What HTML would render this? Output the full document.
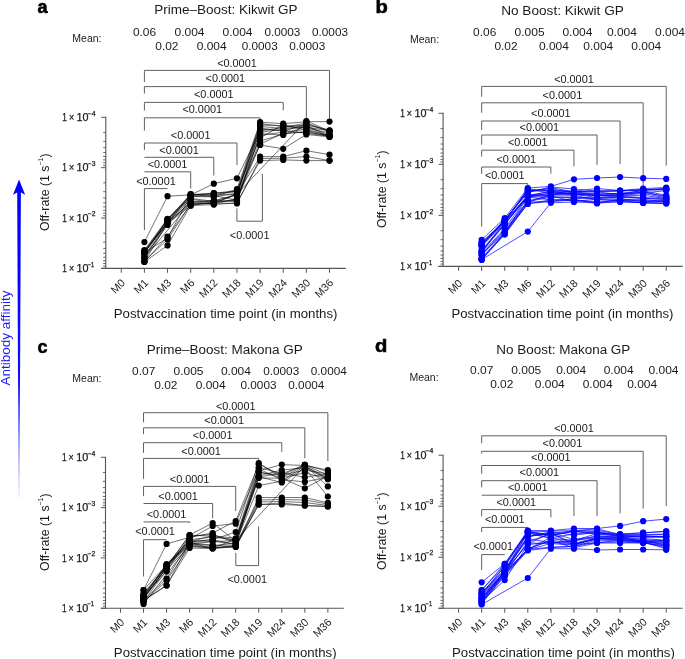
<!DOCTYPE html>
<html><head><meta charset="utf-8"><style>
html,body{margin:0;padding:0;background:#fff;}
svg{display:block;will-change:transform;font-family:"Liberation Sans", sans-serif;}
</style></head><body>
<svg width="685" height="659" viewBox="0 0 685 659">
<defs><linearGradient id="fade" x1="0" y1="0" x2="0" y2="1">
<stop offset="0" stop-color="#0000ff"/><stop offset="0.6" stop-color="#0000ff" stop-opacity="0.95"/><stop offset="1" stop-color="#0000ff" stop-opacity="0.1"/></linearGradient></defs>
<rect width="685" height="659" fill="#fff"/><line x1="105.80" y1="116.80" x2="105.80" y2="268.90" stroke="#555" stroke-width="1.1"/>
<line x1="101.20" y1="117.30" x2="105.80" y2="117.30" stroke="#555" stroke-width="1.0"/>
<line x1="103.20" y1="132.46" x2="105.80" y2="132.46" stroke="#555" stroke-width="0.9"/>
<line x1="103.20" y1="141.33" x2="105.80" y2="141.33" stroke="#555" stroke-width="0.9"/>
<line x1="103.20" y1="147.63" x2="105.80" y2="147.63" stroke="#555" stroke-width="0.9"/>
<line x1="103.20" y1="152.51" x2="105.80" y2="152.51" stroke="#555" stroke-width="0.9"/>
<line x1="103.20" y1="156.50" x2="105.80" y2="156.50" stroke="#555" stroke-width="0.9"/>
<line x1="103.20" y1="159.87" x2="105.80" y2="159.87" stroke="#555" stroke-width="0.9"/>
<line x1="103.20" y1="162.79" x2="105.80" y2="162.79" stroke="#555" stroke-width="0.9"/>
<line x1="103.20" y1="165.37" x2="105.80" y2="165.37" stroke="#555" stroke-width="0.9"/>
<g stroke="#1a1a1a" stroke-width="0.25">
<text x="62.30" y="121.10" font-size="10" text-anchor="start" fill="#1a1a1a" font-weight="normal" textLength="4.6" lengthAdjust="spacingAndGlyphs">1</text>
<text x="68.90" y="121.10" font-size="10" text-anchor="start" fill="#1a1a1a" font-weight="normal" textLength="5.2" lengthAdjust="spacingAndGlyphs">×</text>
<text x="76.50" y="121.10" font-size="10" text-anchor="start" fill="#1a1a1a" font-weight="normal" textLength="12.0" lengthAdjust="spacingAndGlyphs">10</text>
<text x="87.70" y="115.50" font-size="6.5" text-anchor="start" fill="#1a1a1a" font-weight="normal" textLength="7.8" lengthAdjust="spacingAndGlyphs">−4</text>
</g>
<line x1="101.20" y1="167.67" x2="105.80" y2="167.67" stroke="#555" stroke-width="1.0"/>
<line x1="103.20" y1="182.83" x2="105.80" y2="182.83" stroke="#555" stroke-width="0.9"/>
<line x1="103.20" y1="191.70" x2="105.80" y2="191.70" stroke="#555" stroke-width="0.9"/>
<line x1="103.20" y1="198.00" x2="105.80" y2="198.00" stroke="#555" stroke-width="0.9"/>
<line x1="103.20" y1="202.88" x2="105.80" y2="202.88" stroke="#555" stroke-width="0.9"/>
<line x1="103.20" y1="206.87" x2="105.80" y2="206.87" stroke="#555" stroke-width="0.9"/>
<line x1="103.20" y1="210.24" x2="105.80" y2="210.24" stroke="#555" stroke-width="0.9"/>
<line x1="103.20" y1="213.16" x2="105.80" y2="213.16" stroke="#555" stroke-width="0.9"/>
<line x1="103.20" y1="215.74" x2="105.80" y2="215.74" stroke="#555" stroke-width="0.9"/>
<g stroke="#1a1a1a" stroke-width="0.25">
<text x="62.30" y="171.47" font-size="10" text-anchor="start" fill="#1a1a1a" font-weight="normal" textLength="4.6" lengthAdjust="spacingAndGlyphs">1</text>
<text x="68.90" y="171.47" font-size="10" text-anchor="start" fill="#1a1a1a" font-weight="normal" textLength="5.2" lengthAdjust="spacingAndGlyphs">×</text>
<text x="76.50" y="171.47" font-size="10" text-anchor="start" fill="#1a1a1a" font-weight="normal" textLength="12.0" lengthAdjust="spacingAndGlyphs">10</text>
<text x="87.70" y="165.87" font-size="6.5" text-anchor="start" fill="#1a1a1a" font-weight="normal" textLength="7.8" lengthAdjust="spacingAndGlyphs">−3</text>
</g>
<line x1="101.20" y1="218.04" x2="105.80" y2="218.04" stroke="#555" stroke-width="1.0"/>
<line x1="103.20" y1="233.20" x2="105.80" y2="233.20" stroke="#555" stroke-width="0.9"/>
<line x1="103.20" y1="242.07" x2="105.80" y2="242.07" stroke="#555" stroke-width="0.9"/>
<line x1="103.20" y1="248.37" x2="105.80" y2="248.37" stroke="#555" stroke-width="0.9"/>
<line x1="103.20" y1="253.25" x2="105.80" y2="253.25" stroke="#555" stroke-width="0.9"/>
<line x1="103.20" y1="257.24" x2="105.80" y2="257.24" stroke="#555" stroke-width="0.9"/>
<line x1="103.20" y1="260.61" x2="105.80" y2="260.61" stroke="#555" stroke-width="0.9"/>
<line x1="103.20" y1="263.53" x2="105.80" y2="263.53" stroke="#555" stroke-width="0.9"/>
<line x1="103.20" y1="266.11" x2="105.80" y2="266.11" stroke="#555" stroke-width="0.9"/>
<g stroke="#1a1a1a" stroke-width="0.25">
<text x="62.30" y="221.84" font-size="10" text-anchor="start" fill="#1a1a1a" font-weight="normal" textLength="4.6" lengthAdjust="spacingAndGlyphs">1</text>
<text x="68.90" y="221.84" font-size="10" text-anchor="start" fill="#1a1a1a" font-weight="normal" textLength="5.2" lengthAdjust="spacingAndGlyphs">×</text>
<text x="76.50" y="221.84" font-size="10" text-anchor="start" fill="#1a1a1a" font-weight="normal" textLength="12.0" lengthAdjust="spacingAndGlyphs">10</text>
<text x="87.70" y="216.24" font-size="6.5" text-anchor="start" fill="#1a1a1a" font-weight="normal" textLength="7.8" lengthAdjust="spacingAndGlyphs">−2</text>
</g>
<line x1="101.20" y1="268.41" x2="105.80" y2="268.41" stroke="#555" stroke-width="1.0"/>
<g stroke="#1a1a1a" stroke-width="0.25">
<text x="62.30" y="272.21" font-size="10" text-anchor="start" fill="#1a1a1a" font-weight="normal" textLength="4.6" lengthAdjust="spacingAndGlyphs">1</text>
<text x="68.90" y="272.21" font-size="10" text-anchor="start" fill="#1a1a1a" font-weight="normal" textLength="5.2" lengthAdjust="spacingAndGlyphs">×</text>
<text x="76.50" y="272.21" font-size="10" text-anchor="start" fill="#1a1a1a" font-weight="normal" textLength="12.0" lengthAdjust="spacingAndGlyphs">10</text>
<text x="87.70" y="266.61" font-size="6.5" text-anchor="start" fill="#1a1a1a" font-weight="normal" textLength="6.6" lengthAdjust="spacingAndGlyphs">−1</text>
</g>
<line x1="101.20" y1="268.40" x2="345.80" y2="268.40" stroke="#555" stroke-width="1.1"/>
<line x1="121.26" y1="268.40" x2="121.26" y2="272.80" stroke="#555" stroke-width="1.0"/>
<text x="0.00" y="0.00" font-size="10.8" text-anchor="end" fill="#1a1a1a" font-weight="normal" transform="translate(125.76,283.60) rotate(-45)">M0</text>
<line x1="144.40" y1="268.40" x2="144.40" y2="272.80" stroke="#555" stroke-width="1.0"/>
<text x="0.00" y="0.00" font-size="10.8" text-anchor="end" fill="#1a1a1a" font-weight="normal" transform="translate(148.90,283.60) rotate(-45)">M1</text>
<line x1="167.54" y1="268.40" x2="167.54" y2="272.80" stroke="#555" stroke-width="1.0"/>
<text x="0.00" y="0.00" font-size="10.8" text-anchor="end" fill="#1a1a1a" font-weight="normal" transform="translate(172.04,283.60) rotate(-45)">M3</text>
<line x1="190.68" y1="268.40" x2="190.68" y2="272.80" stroke="#555" stroke-width="1.0"/>
<text x="0.00" y="0.00" font-size="10.8" text-anchor="end" fill="#1a1a1a" font-weight="normal" transform="translate(195.18,283.60) rotate(-45)">M6</text>
<line x1="213.82" y1="268.40" x2="213.82" y2="272.80" stroke="#555" stroke-width="1.0"/>
<text x="0.00" y="0.00" font-size="10.8" text-anchor="end" fill="#1a1a1a" font-weight="normal" transform="translate(218.32,283.60) rotate(-45)">M12</text>
<line x1="236.96" y1="268.40" x2="236.96" y2="272.80" stroke="#555" stroke-width="1.0"/>
<text x="0.00" y="0.00" font-size="10.8" text-anchor="end" fill="#1a1a1a" font-weight="normal" transform="translate(241.46,283.60) rotate(-45)">M18</text>
<line x1="260.10" y1="268.40" x2="260.10" y2="272.80" stroke="#555" stroke-width="1.0"/>
<text x="0.00" y="0.00" font-size="10.8" text-anchor="end" fill="#1a1a1a" font-weight="normal" transform="translate(264.60,283.60) rotate(-45)">M19</text>
<line x1="283.24" y1="268.40" x2="283.24" y2="272.80" stroke="#555" stroke-width="1.0"/>
<text x="0.00" y="0.00" font-size="10.8" text-anchor="end" fill="#1a1a1a" font-weight="normal" transform="translate(287.74,283.60) rotate(-45)">M24</text>
<line x1="306.38" y1="268.40" x2="306.38" y2="272.80" stroke="#555" stroke-width="1.0"/>
<text x="0.00" y="0.00" font-size="10.8" text-anchor="end" fill="#1a1a1a" font-weight="normal" transform="translate(310.88,283.60) rotate(-45)">M30</text>
<line x1="329.52" y1="268.40" x2="329.52" y2="272.80" stroke="#555" stroke-width="1.0"/>
<text x="0.00" y="0.00" font-size="10.8" text-anchor="end" fill="#1a1a1a" font-weight="normal" transform="translate(334.02,283.60) rotate(-45)">M36</text>
<text x="225.60" y="317.80" font-size="12" text-anchor="middle" fill="#1a1a1a" font-weight="normal" textLength="223.8" lengthAdjust="spacingAndGlyphs">Postvaccination time point (in months)</text>
<text transform="translate(49.20,192.25) rotate(-90)" font-size="12.5" fill="#1a1a1a" text-anchor="middle" textLength="77.5" lengthAdjust="spacingAndGlyphs">Off-rate (1 s<tspan dy="-6" font-size="7">−1</tspan><tspan dy="6">)</tspan></text>
<text x="0.00" y="0.00" font-size="18" text-anchor="start" fill="#000" font-weight="bold" stroke="#000" stroke-width="0.6" transform="translate(37.60,13.10) scale(1.0,1)">a</text>
<text x="225.90" y="14.10" font-size="12.5" text-anchor="middle" fill="#1a1a1a" font-weight="normal" textLength="143.5" lengthAdjust="spacingAndGlyphs">Prime–Boost: Kikwit GP</text>
<text x="72.30" y="42.10" font-size="10" text-anchor="start" fill="#1a1a1a" font-weight="normal" textLength="29.2" lengthAdjust="spacingAndGlyphs">Mean:</text>
<text x="144.50" y="36.10" font-size="10" text-anchor="middle" fill="#1a1a1a" font-weight="normal" textLength="23.2" lengthAdjust="spacingAndGlyphs">0.06</text>
<text x="189.50" y="36.10" font-size="10" text-anchor="middle" fill="#1a1a1a" font-weight="normal" textLength="30.0" lengthAdjust="spacingAndGlyphs">0.004</text>
<text x="237.50" y="36.10" font-size="10" text-anchor="middle" fill="#1a1a1a" font-weight="normal" textLength="30.0" lengthAdjust="spacingAndGlyphs">0.004</text>
<text x="282.40" y="36.10" font-size="10" text-anchor="middle" fill="#1a1a1a" font-weight="normal" textLength="36.0" lengthAdjust="spacingAndGlyphs">0.0003</text>
<text x="330.00" y="36.10" font-size="10" text-anchor="middle" fill="#1a1a1a" font-weight="normal" textLength="36.0" lengthAdjust="spacingAndGlyphs">0.0003</text>
<text x="166.90" y="50.10" font-size="10" text-anchor="middle" fill="#1a1a1a" font-weight="normal" textLength="23.2" lengthAdjust="spacingAndGlyphs">0.02</text>
<text x="211.70" y="50.10" font-size="10" text-anchor="middle" fill="#1a1a1a" font-weight="normal" textLength="30.0" lengthAdjust="spacingAndGlyphs">0.004</text>
<text x="259.70" y="50.10" font-size="10" text-anchor="middle" fill="#1a1a1a" font-weight="normal" textLength="36.0" lengthAdjust="spacingAndGlyphs">0.0003</text>
<text x="307.20" y="50.10" font-size="10" text-anchor="middle" fill="#1a1a1a" font-weight="normal" textLength="36.0" lengthAdjust="spacingAndGlyphs">0.0003</text>
<polyline points="144.40,82.00 144.40,70.40 329.52,70.40 329.52,120.50" fill="none" stroke="#606060" stroke-width="1.0"/>
<text x="236.96" y="66.90" font-size="10" text-anchor="middle" fill="#1a1a1a" font-weight="normal" textLength="39.6" lengthAdjust="spacingAndGlyphs">&lt;0.0001</text>
<polyline points="144.40,93.60 144.40,86.60 306.38,86.60 306.38,119.50" fill="none" stroke="#606060" stroke-width="1.0"/>
<text x="225.39" y="82.40" font-size="10" text-anchor="middle" fill="#1a1a1a" font-weight="normal" textLength="39.6" lengthAdjust="spacingAndGlyphs">&lt;0.0001</text>
<polyline points="144.40,110.50 144.40,102.40 283.24,102.40 283.24,110.40" fill="none" stroke="#606060" stroke-width="1.0"/>
<text x="213.82" y="98.40" font-size="10" text-anchor="middle" fill="#1a1a1a" font-weight="normal" textLength="39.6" lengthAdjust="spacingAndGlyphs">&lt;0.0001</text>
<polyline points="144.40,130.50 144.40,117.80 260.10,117.80 260.10,121.00" fill="none" stroke="#606060" stroke-width="1.0"/>
<text x="202.25" y="113.30" font-size="10" text-anchor="middle" fill="#1a1a1a" font-weight="normal" textLength="39.6" lengthAdjust="spacingAndGlyphs">&lt;0.0001</text>
<polyline points="144.40,150.00 144.40,143.00 236.96,143.00 236.96,165.00" fill="none" stroke="#606060" stroke-width="1.0"/>
<text x="190.68" y="138.50" font-size="10" text-anchor="middle" fill="#1a1a1a" font-weight="normal" textLength="39.6" lengthAdjust="spacingAndGlyphs">&lt;0.0001</text>
<polyline points="144.40,157.30 144.40,157.30 213.82,157.30 213.82,175.50" fill="none" stroke="#606060" stroke-width="1.0"/>
<text x="179.11" y="153.60" font-size="10" text-anchor="middle" fill="#1a1a1a" font-weight="normal" textLength="39.6" lengthAdjust="spacingAndGlyphs">&lt;0.0001</text>
<polyline points="144.40,171.80 144.40,171.80 190.68,171.80 190.68,188.50" fill="none" stroke="#606060" stroke-width="1.0"/>
<text x="167.54" y="167.80" font-size="10" text-anchor="middle" fill="#1a1a1a" font-weight="normal" textLength="39.6" lengthAdjust="spacingAndGlyphs">&lt;0.0001</text>
<polyline points="144.40,230.00 144.40,188.60 167.54,188.60 167.54,188.60" fill="none" stroke="#606060" stroke-width="1.0"/>
<text x="155.97" y="185.20" font-size="10" text-anchor="middle" fill="#1a1a1a" font-weight="normal" textLength="39.6" lengthAdjust="spacingAndGlyphs">&lt;0.0001</text>
<polyline points="236.90,208.40 236.90,221.20 262.40,221.20 262.40,173.80" fill="none" stroke="#606060" stroke-width="1.0"/>
<text x="249.65" y="238.60" font-size="10" text-anchor="middle" fill="#1a1a1a" font-weight="normal" textLength="39.6" lengthAdjust="spacingAndGlyphs">&lt;0.0001</text>
<polyline points="144.40,242.10 167.54,196.20 190.68,194.91 213.82,183.70 236.96,178.30 260.10,130.82 283.24,127.47 306.38,123.00 329.52,131.62" fill="none" stroke="#000" stroke-width="0.55"/>
<polyline points="144.40,250.00 167.54,218.80 190.68,194.96 213.82,193.00 236.96,191.14 260.10,123.64 283.24,126.53 306.38,125.07 329.52,130.51" fill="none" stroke="#000" stroke-width="0.55"/>
<polyline points="144.40,250.84 167.54,219.85 190.68,194.00 213.82,196.82 236.96,189.00 260.10,122.20 283.24,123.70 306.38,121.70 329.52,121.60" fill="none" stroke="#000" stroke-width="0.55"/>
<polyline points="144.40,251.07 167.54,222.63 190.68,196.60 213.82,196.84 236.96,193.53 260.10,125.07 283.24,125.58 306.38,128.18 329.52,132.77" fill="none" stroke="#000" stroke-width="0.55"/>
<polyline points="144.40,252.32 167.54,222.62 190.68,194.29 213.82,194.37 236.96,191.45 260.10,138.00 283.24,124.64 306.38,130.25 329.52,135.63" fill="none" stroke="#000" stroke-width="0.55"/>
<polyline points="144.40,252.34 167.54,221.18 190.68,195.39 213.82,193.19 236.96,191.37 260.10,132.25 283.24,129.35 306.38,127.15 329.52,130.77" fill="none" stroke="#000" stroke-width="0.55"/>
<polyline points="144.40,252.55 167.54,238.00 190.68,195.43 213.82,194.93 236.96,193.85 260.10,127.95 283.24,131.23 306.38,124.04 329.52,130.40" fill="none" stroke="#000" stroke-width="0.55"/>
<polyline points="144.40,252.57 167.54,222.09 190.68,202.41 213.82,200.60 236.96,195.24 260.10,126.51 283.24,128.41 306.38,126.11 329.52,136.71" fill="none" stroke="#000" stroke-width="0.55"/>
<polyline points="144.40,252.66 167.54,219.72 190.68,196.51 213.82,195.64 236.96,200.14 260.10,144.20 283.24,133.12 306.38,132.33 329.52,135.74" fill="none" stroke="#000" stroke-width="0.55"/>
<polyline points="144.40,253.46 167.54,219.07 190.68,198.47 213.82,201.28 236.96,200.47 260.10,129.38 283.24,130.29 306.38,133.36 329.52,136.26" fill="none" stroke="#000" stroke-width="0.55"/>
<polyline points="144.40,255.61 167.54,222.31 190.68,199.34 213.82,202.36 236.96,199.89 260.10,135.13 283.24,132.18 306.38,129.22 329.52,135.64" fill="none" stroke="#000" stroke-width="0.55"/>
<polyline points="144.40,256.97 167.54,225.00 190.68,201.05 213.82,204.14 236.96,198.56 260.10,141.00 283.24,134.06 306.38,131.29 329.52,136.52" fill="none" stroke="#000" stroke-width="0.55"/>
<polyline points="144.40,257.96 190.68,202.60 213.82,200.49 236.96,201.73 260.10,133.69 283.24,135.00 306.38,126.00 329.52,135.02" fill="none" stroke="#000" stroke-width="0.55"/>
<polyline points="144.40,258.31 167.54,222.57 190.68,203.69 213.82,203.11 236.96,194.06 260.10,145.00 283.24,148.80 306.38,134.40 329.52,136.90" fill="none" stroke="#000" stroke-width="0.55"/>
<polyline points="144.40,261.09 167.54,239.50 190.68,204.20 213.82,203.39 236.96,194.05 306.38,121.00 329.52,131.00" fill="none" stroke="#000" stroke-width="0.55"/>
<polyline points="144.40,261.58 167.54,223.22 190.68,205.70 213.82,201.49 236.96,194.09 260.10,156.60 283.24,156.60 306.38,150.70 329.52,154.70" fill="none" stroke="#000" stroke-width="0.55"/>
<polyline points="144.40,261.65 167.54,236.50 190.68,204.41 213.82,203.00 236.96,203.50 260.10,158.50 283.24,158.20 306.38,156.60 329.52,160.60" fill="none" stroke="#000" stroke-width="0.55"/>
<polyline points="144.40,262.00 167.54,245.40 190.68,205.45 213.82,204.60 236.96,202.80 260.10,160.60 283.24,159.90 306.38,160.60 329.52,160.60" fill="none" stroke="#000" stroke-width="0.55"/>
<circle cx="144.40" cy="242.10" r="3.1" fill="#000"/>
<circle cx="167.54" cy="196.20" r="3.1" fill="#000"/>
<circle cx="190.68" cy="194.91" r="3.1" fill="#000"/>
<circle cx="213.82" cy="183.70" r="3.1" fill="#000"/>
<circle cx="236.96" cy="178.30" r="3.1" fill="#000"/>
<circle cx="260.10" cy="130.82" r="3.1" fill="#000"/>
<circle cx="283.24" cy="127.47" r="3.1" fill="#000"/>
<circle cx="306.38" cy="123.00" r="3.1" fill="#000"/>
<circle cx="329.52" cy="131.62" r="3.1" fill="#000"/>
<circle cx="144.40" cy="250.00" r="3.1" fill="#000"/>
<circle cx="167.54" cy="218.80" r="3.1" fill="#000"/>
<circle cx="190.68" cy="194.96" r="3.1" fill="#000"/>
<circle cx="213.82" cy="193.00" r="3.1" fill="#000"/>
<circle cx="236.96" cy="191.14" r="3.1" fill="#000"/>
<circle cx="260.10" cy="123.64" r="3.1" fill="#000"/>
<circle cx="283.24" cy="126.53" r="3.1" fill="#000"/>
<circle cx="306.38" cy="125.07" r="3.1" fill="#000"/>
<circle cx="329.52" cy="130.51" r="3.1" fill="#000"/>
<circle cx="144.40" cy="250.84" r="3.1" fill="#000"/>
<circle cx="167.54" cy="219.85" r="3.1" fill="#000"/>
<circle cx="190.68" cy="194.00" r="3.1" fill="#000"/>
<circle cx="213.82" cy="196.82" r="3.1" fill="#000"/>
<circle cx="236.96" cy="189.00" r="3.1" fill="#000"/>
<circle cx="260.10" cy="122.20" r="3.1" fill="#000"/>
<circle cx="283.24" cy="123.70" r="3.1" fill="#000"/>
<circle cx="306.38" cy="121.70" r="3.1" fill="#000"/>
<circle cx="329.52" cy="121.60" r="3.1" fill="#000"/>
<circle cx="144.40" cy="251.07" r="3.1" fill="#000"/>
<circle cx="167.54" cy="222.63" r="3.1" fill="#000"/>
<circle cx="190.68" cy="196.60" r="3.1" fill="#000"/>
<circle cx="213.82" cy="196.84" r="3.1" fill="#000"/>
<circle cx="236.96" cy="193.53" r="3.1" fill="#000"/>
<circle cx="260.10" cy="125.07" r="3.1" fill="#000"/>
<circle cx="283.24" cy="125.58" r="3.1" fill="#000"/>
<circle cx="306.38" cy="128.18" r="3.1" fill="#000"/>
<circle cx="329.52" cy="132.77" r="3.1" fill="#000"/>
<circle cx="144.40" cy="252.32" r="3.1" fill="#000"/>
<circle cx="167.54" cy="222.62" r="3.1" fill="#000"/>
<circle cx="190.68" cy="194.29" r="3.1" fill="#000"/>
<circle cx="213.82" cy="194.37" r="3.1" fill="#000"/>
<circle cx="236.96" cy="191.45" r="3.1" fill="#000"/>
<circle cx="260.10" cy="138.00" r="3.1" fill="#000"/>
<circle cx="283.24" cy="124.64" r="3.1" fill="#000"/>
<circle cx="306.38" cy="130.25" r="3.1" fill="#000"/>
<circle cx="329.52" cy="135.63" r="3.1" fill="#000"/>
<circle cx="144.40" cy="252.34" r="3.1" fill="#000"/>
<circle cx="167.54" cy="221.18" r="3.1" fill="#000"/>
<circle cx="190.68" cy="195.39" r="3.1" fill="#000"/>
<circle cx="213.82" cy="193.19" r="3.1" fill="#000"/>
<circle cx="236.96" cy="191.37" r="3.1" fill="#000"/>
<circle cx="260.10" cy="132.25" r="3.1" fill="#000"/>
<circle cx="283.24" cy="129.35" r="3.1" fill="#000"/>
<circle cx="306.38" cy="127.15" r="3.1" fill="#000"/>
<circle cx="329.52" cy="130.77" r="3.1" fill="#000"/>
<circle cx="144.40" cy="252.55" r="3.1" fill="#000"/>
<circle cx="167.54" cy="238.00" r="3.1" fill="#000"/>
<circle cx="190.68" cy="195.43" r="3.1" fill="#000"/>
<circle cx="213.82" cy="194.93" r="3.1" fill="#000"/>
<circle cx="236.96" cy="193.85" r="3.1" fill="#000"/>
<circle cx="260.10" cy="127.95" r="3.1" fill="#000"/>
<circle cx="283.24" cy="131.23" r="3.1" fill="#000"/>
<circle cx="306.38" cy="124.04" r="3.1" fill="#000"/>
<circle cx="329.52" cy="130.40" r="3.1" fill="#000"/>
<circle cx="144.40" cy="252.57" r="3.1" fill="#000"/>
<circle cx="167.54" cy="222.09" r="3.1" fill="#000"/>
<circle cx="190.68" cy="202.41" r="3.1" fill="#000"/>
<circle cx="213.82" cy="200.60" r="3.1" fill="#000"/>
<circle cx="236.96" cy="195.24" r="3.1" fill="#000"/>
<circle cx="260.10" cy="126.51" r="3.1" fill="#000"/>
<circle cx="283.24" cy="128.41" r="3.1" fill="#000"/>
<circle cx="306.38" cy="126.11" r="3.1" fill="#000"/>
<circle cx="329.52" cy="136.71" r="3.1" fill="#000"/>
<circle cx="144.40" cy="252.66" r="3.1" fill="#000"/>
<circle cx="167.54" cy="219.72" r="3.1" fill="#000"/>
<circle cx="190.68" cy="196.51" r="3.1" fill="#000"/>
<circle cx="213.82" cy="195.64" r="3.1" fill="#000"/>
<circle cx="236.96" cy="200.14" r="3.1" fill="#000"/>
<circle cx="260.10" cy="144.20" r="3.1" fill="#000"/>
<circle cx="283.24" cy="133.12" r="3.1" fill="#000"/>
<circle cx="306.38" cy="132.33" r="3.1" fill="#000"/>
<circle cx="329.52" cy="135.74" r="3.1" fill="#000"/>
<circle cx="144.40" cy="253.46" r="3.1" fill="#000"/>
<circle cx="167.54" cy="219.07" r="3.1" fill="#000"/>
<circle cx="190.68" cy="198.47" r="3.1" fill="#000"/>
<circle cx="213.82" cy="201.28" r="3.1" fill="#000"/>
<circle cx="236.96" cy="200.47" r="3.1" fill="#000"/>
<circle cx="260.10" cy="129.38" r="3.1" fill="#000"/>
<circle cx="283.24" cy="130.29" r="3.1" fill="#000"/>
<circle cx="306.38" cy="133.36" r="3.1" fill="#000"/>
<circle cx="329.52" cy="136.26" r="3.1" fill="#000"/>
<circle cx="144.40" cy="255.61" r="3.1" fill="#000"/>
<circle cx="167.54" cy="222.31" r="3.1" fill="#000"/>
<circle cx="190.68" cy="199.34" r="3.1" fill="#000"/>
<circle cx="213.82" cy="202.36" r="3.1" fill="#000"/>
<circle cx="236.96" cy="199.89" r="3.1" fill="#000"/>
<circle cx="260.10" cy="135.13" r="3.1" fill="#000"/>
<circle cx="283.24" cy="132.18" r="3.1" fill="#000"/>
<circle cx="306.38" cy="129.22" r="3.1" fill="#000"/>
<circle cx="329.52" cy="135.64" r="3.1" fill="#000"/>
<circle cx="144.40" cy="256.97" r="3.1" fill="#000"/>
<circle cx="167.54" cy="225.00" r="3.1" fill="#000"/>
<circle cx="190.68" cy="201.05" r="3.1" fill="#000"/>
<circle cx="213.82" cy="204.14" r="3.1" fill="#000"/>
<circle cx="236.96" cy="198.56" r="3.1" fill="#000"/>
<circle cx="260.10" cy="141.00" r="3.1" fill="#000"/>
<circle cx="283.24" cy="134.06" r="3.1" fill="#000"/>
<circle cx="306.38" cy="131.29" r="3.1" fill="#000"/>
<circle cx="329.52" cy="136.52" r="3.1" fill="#000"/>
<circle cx="144.40" cy="257.96" r="3.1" fill="#000"/>
<circle cx="190.68" cy="202.60" r="3.1" fill="#000"/>
<circle cx="213.82" cy="200.49" r="3.1" fill="#000"/>
<circle cx="236.96" cy="201.73" r="3.1" fill="#000"/>
<circle cx="260.10" cy="133.69" r="3.1" fill="#000"/>
<circle cx="283.24" cy="135.00" r="3.1" fill="#000"/>
<circle cx="306.38" cy="126.00" r="3.1" fill="#000"/>
<circle cx="329.52" cy="135.02" r="3.1" fill="#000"/>
<circle cx="144.40" cy="258.31" r="3.1" fill="#000"/>
<circle cx="167.54" cy="222.57" r="3.1" fill="#000"/>
<circle cx="190.68" cy="203.69" r="3.1" fill="#000"/>
<circle cx="213.82" cy="203.11" r="3.1" fill="#000"/>
<circle cx="236.96" cy="194.06" r="3.1" fill="#000"/>
<circle cx="260.10" cy="145.00" r="3.1" fill="#000"/>
<circle cx="283.24" cy="148.80" r="3.1" fill="#000"/>
<circle cx="306.38" cy="134.40" r="3.1" fill="#000"/>
<circle cx="329.52" cy="136.90" r="3.1" fill="#000"/>
<circle cx="144.40" cy="261.09" r="3.1" fill="#000"/>
<circle cx="167.54" cy="239.50" r="3.1" fill="#000"/>
<circle cx="190.68" cy="204.20" r="3.1" fill="#000"/>
<circle cx="213.82" cy="203.39" r="3.1" fill="#000"/>
<circle cx="236.96" cy="194.05" r="3.1" fill="#000"/>
<circle cx="306.38" cy="121.00" r="3.1" fill="#000"/>
<circle cx="329.52" cy="131.00" r="3.1" fill="#000"/>
<circle cx="144.40" cy="261.58" r="3.1" fill="#000"/>
<circle cx="167.54" cy="223.22" r="3.1" fill="#000"/>
<circle cx="190.68" cy="205.70" r="3.1" fill="#000"/>
<circle cx="213.82" cy="201.49" r="3.1" fill="#000"/>
<circle cx="236.96" cy="194.09" r="3.1" fill="#000"/>
<circle cx="260.10" cy="156.60" r="3.1" fill="#000"/>
<circle cx="283.24" cy="156.60" r="3.1" fill="#000"/>
<circle cx="306.38" cy="150.70" r="3.1" fill="#000"/>
<circle cx="329.52" cy="154.70" r="3.1" fill="#000"/>
<circle cx="144.40" cy="261.65" r="3.1" fill="#000"/>
<circle cx="167.54" cy="236.50" r="3.1" fill="#000"/>
<circle cx="190.68" cy="204.41" r="3.1" fill="#000"/>
<circle cx="213.82" cy="203.00" r="3.1" fill="#000"/>
<circle cx="236.96" cy="203.50" r="3.1" fill="#000"/>
<circle cx="260.10" cy="158.50" r="3.1" fill="#000"/>
<circle cx="283.24" cy="158.20" r="3.1" fill="#000"/>
<circle cx="306.38" cy="156.60" r="3.1" fill="#000"/>
<circle cx="329.52" cy="160.60" r="3.1" fill="#000"/>
<circle cx="144.40" cy="262.00" r="3.1" fill="#000"/>
<circle cx="167.54" cy="245.40" r="3.1" fill="#000"/>
<circle cx="190.68" cy="205.45" r="3.1" fill="#000"/>
<circle cx="213.82" cy="204.60" r="3.1" fill="#000"/>
<circle cx="236.96" cy="202.80" r="3.1" fill="#000"/>
<circle cx="260.10" cy="160.60" r="3.1" fill="#000"/>
<circle cx="283.24" cy="159.90" r="3.1" fill="#000"/>
<circle cx="306.38" cy="160.60" r="3.1" fill="#000"/>
<circle cx="329.52" cy="160.60" r="3.1" fill="#000"/>
<line x1="443.10" y1="112.80" x2="443.10" y2="266.90" stroke="#555" stroke-width="1.1"/>
<line x1="438.50" y1="113.30" x2="443.10" y2="113.30" stroke="#555" stroke-width="1.0"/>
<line x1="440.50" y1="128.66" x2="443.10" y2="128.66" stroke="#555" stroke-width="0.9"/>
<line x1="440.50" y1="137.65" x2="443.10" y2="137.65" stroke="#555" stroke-width="0.9"/>
<line x1="440.50" y1="144.02" x2="443.10" y2="144.02" stroke="#555" stroke-width="0.9"/>
<line x1="440.50" y1="148.97" x2="443.10" y2="148.97" stroke="#555" stroke-width="0.9"/>
<line x1="440.50" y1="153.01" x2="443.10" y2="153.01" stroke="#555" stroke-width="0.9"/>
<line x1="440.50" y1="156.43" x2="443.10" y2="156.43" stroke="#555" stroke-width="0.9"/>
<line x1="440.50" y1="159.38" x2="443.10" y2="159.38" stroke="#555" stroke-width="0.9"/>
<line x1="440.50" y1="161.99" x2="443.10" y2="161.99" stroke="#555" stroke-width="0.9"/>
<g stroke="#1a1a1a" stroke-width="0.25">
<text x="400.20" y="117.10" font-size="10" text-anchor="start" fill="#1a1a1a" font-weight="normal" textLength="4.6" lengthAdjust="spacingAndGlyphs">1</text>
<text x="406.80" y="117.10" font-size="10" text-anchor="start" fill="#1a1a1a" font-weight="normal" textLength="5.2" lengthAdjust="spacingAndGlyphs">×</text>
<text x="414.40" y="117.10" font-size="10" text-anchor="start" fill="#1a1a1a" font-weight="normal" textLength="12.0" lengthAdjust="spacingAndGlyphs">10</text>
<text x="425.60" y="111.50" font-size="6.5" text-anchor="start" fill="#1a1a1a" font-weight="normal" textLength="7.8" lengthAdjust="spacingAndGlyphs">−4</text>
</g>
<line x1="438.50" y1="164.33" x2="443.10" y2="164.33" stroke="#555" stroke-width="1.0"/>
<line x1="440.50" y1="179.69" x2="443.10" y2="179.69" stroke="#555" stroke-width="0.9"/>
<line x1="440.50" y1="188.68" x2="443.10" y2="188.68" stroke="#555" stroke-width="0.9"/>
<line x1="440.50" y1="195.05" x2="443.10" y2="195.05" stroke="#555" stroke-width="0.9"/>
<line x1="440.50" y1="200.00" x2="443.10" y2="200.00" stroke="#555" stroke-width="0.9"/>
<line x1="440.50" y1="204.04" x2="443.10" y2="204.04" stroke="#555" stroke-width="0.9"/>
<line x1="440.50" y1="207.46" x2="443.10" y2="207.46" stroke="#555" stroke-width="0.9"/>
<line x1="440.50" y1="210.41" x2="443.10" y2="210.41" stroke="#555" stroke-width="0.9"/>
<line x1="440.50" y1="213.02" x2="443.10" y2="213.02" stroke="#555" stroke-width="0.9"/>
<g stroke="#1a1a1a" stroke-width="0.25">
<text x="400.20" y="168.13" font-size="10" text-anchor="start" fill="#1a1a1a" font-weight="normal" textLength="4.6" lengthAdjust="spacingAndGlyphs">1</text>
<text x="406.80" y="168.13" font-size="10" text-anchor="start" fill="#1a1a1a" font-weight="normal" textLength="5.2" lengthAdjust="spacingAndGlyphs">×</text>
<text x="414.40" y="168.13" font-size="10" text-anchor="start" fill="#1a1a1a" font-weight="normal" textLength="12.0" lengthAdjust="spacingAndGlyphs">10</text>
<text x="425.60" y="162.53" font-size="6.5" text-anchor="start" fill="#1a1a1a" font-weight="normal" textLength="7.8" lengthAdjust="spacingAndGlyphs">−3</text>
</g>
<line x1="438.50" y1="215.36" x2="443.10" y2="215.36" stroke="#555" stroke-width="1.0"/>
<line x1="440.50" y1="230.72" x2="443.10" y2="230.72" stroke="#555" stroke-width="0.9"/>
<line x1="440.50" y1="239.71" x2="443.10" y2="239.71" stroke="#555" stroke-width="0.9"/>
<line x1="440.50" y1="246.08" x2="443.10" y2="246.08" stroke="#555" stroke-width="0.9"/>
<line x1="440.50" y1="251.03" x2="443.10" y2="251.03" stroke="#555" stroke-width="0.9"/>
<line x1="440.50" y1="255.07" x2="443.10" y2="255.07" stroke="#555" stroke-width="0.9"/>
<line x1="440.50" y1="258.49" x2="443.10" y2="258.49" stroke="#555" stroke-width="0.9"/>
<line x1="440.50" y1="261.44" x2="443.10" y2="261.44" stroke="#555" stroke-width="0.9"/>
<line x1="440.50" y1="264.05" x2="443.10" y2="264.05" stroke="#555" stroke-width="0.9"/>
<g stroke="#1a1a1a" stroke-width="0.25">
<text x="400.20" y="219.16" font-size="10" text-anchor="start" fill="#1a1a1a" font-weight="normal" textLength="4.6" lengthAdjust="spacingAndGlyphs">1</text>
<text x="406.80" y="219.16" font-size="10" text-anchor="start" fill="#1a1a1a" font-weight="normal" textLength="5.2" lengthAdjust="spacingAndGlyphs">×</text>
<text x="414.40" y="219.16" font-size="10" text-anchor="start" fill="#1a1a1a" font-weight="normal" textLength="12.0" lengthAdjust="spacingAndGlyphs">10</text>
<text x="425.60" y="213.56" font-size="6.5" text-anchor="start" fill="#1a1a1a" font-weight="normal" textLength="7.8" lengthAdjust="spacingAndGlyphs">−2</text>
</g>
<line x1="438.50" y1="266.39" x2="443.10" y2="266.39" stroke="#555" stroke-width="1.0"/>
<g stroke="#1a1a1a" stroke-width="0.25">
<text x="400.20" y="270.19" font-size="10" text-anchor="start" fill="#1a1a1a" font-weight="normal" textLength="4.6" lengthAdjust="spacingAndGlyphs">1</text>
<text x="406.80" y="270.19" font-size="10" text-anchor="start" fill="#1a1a1a" font-weight="normal" textLength="5.2" lengthAdjust="spacingAndGlyphs">×</text>
<text x="414.40" y="270.19" font-size="10" text-anchor="start" fill="#1a1a1a" font-weight="normal" textLength="12.0" lengthAdjust="spacingAndGlyphs">10</text>
<text x="425.60" y="264.59" font-size="6.5" text-anchor="start" fill="#1a1a1a" font-weight="normal" textLength="6.6" lengthAdjust="spacingAndGlyphs">−1</text>
</g>
<line x1="438.50" y1="266.40" x2="682.70" y2="266.40" stroke="#555" stroke-width="1.1"/>
<line x1="458.60" y1="266.40" x2="458.60" y2="270.80" stroke="#555" stroke-width="1.0"/>
<text x="0.00" y="0.00" font-size="10.8" text-anchor="end" fill="#1a1a1a" font-weight="normal" transform="translate(463.10,283.90) rotate(-45)">M0</text>
<line x1="481.67" y1="266.40" x2="481.67" y2="270.80" stroke="#555" stroke-width="1.0"/>
<text x="0.00" y="0.00" font-size="10.8" text-anchor="end" fill="#1a1a1a" font-weight="normal" transform="translate(486.17,283.90) rotate(-45)">M1</text>
<line x1="504.74" y1="266.40" x2="504.74" y2="270.80" stroke="#555" stroke-width="1.0"/>
<text x="0.00" y="0.00" font-size="10.8" text-anchor="end" fill="#1a1a1a" font-weight="normal" transform="translate(509.24,283.90) rotate(-45)">M3</text>
<line x1="527.81" y1="266.40" x2="527.81" y2="270.80" stroke="#555" stroke-width="1.0"/>
<text x="0.00" y="0.00" font-size="10.8" text-anchor="end" fill="#1a1a1a" font-weight="normal" transform="translate(532.31,283.90) rotate(-45)">M6</text>
<line x1="550.88" y1="266.40" x2="550.88" y2="270.80" stroke="#555" stroke-width="1.0"/>
<text x="0.00" y="0.00" font-size="10.8" text-anchor="end" fill="#1a1a1a" font-weight="normal" transform="translate(555.38,283.90) rotate(-45)">M12</text>
<line x1="573.95" y1="266.40" x2="573.95" y2="270.80" stroke="#555" stroke-width="1.0"/>
<text x="0.00" y="0.00" font-size="10.8" text-anchor="end" fill="#1a1a1a" font-weight="normal" transform="translate(578.45,283.90) rotate(-45)">M18</text>
<line x1="597.02" y1="266.40" x2="597.02" y2="270.80" stroke="#555" stroke-width="1.0"/>
<text x="0.00" y="0.00" font-size="10.8" text-anchor="end" fill="#1a1a1a" font-weight="normal" transform="translate(601.52,283.90) rotate(-45)">M19</text>
<line x1="620.09" y1="266.40" x2="620.09" y2="270.80" stroke="#555" stroke-width="1.0"/>
<text x="0.00" y="0.00" font-size="10.8" text-anchor="end" fill="#1a1a1a" font-weight="normal" transform="translate(624.59,283.90) rotate(-45)">M24</text>
<line x1="643.16" y1="266.40" x2="643.16" y2="270.80" stroke="#555" stroke-width="1.0"/>
<text x="0.00" y="0.00" font-size="10.8" text-anchor="end" fill="#1a1a1a" font-weight="normal" transform="translate(647.66,283.90) rotate(-45)">M30</text>
<line x1="666.23" y1="266.40" x2="666.23" y2="270.80" stroke="#555" stroke-width="1.0"/>
<text x="0.00" y="0.00" font-size="10.8" text-anchor="end" fill="#1a1a1a" font-weight="normal" transform="translate(670.73,283.90) rotate(-45)">M36</text>
<text x="562.40" y="317.80" font-size="12" text-anchor="middle" fill="#1a1a1a" font-weight="normal" textLength="222.0" lengthAdjust="spacingAndGlyphs">Postvaccination time point (in months)</text>
<text transform="translate(386.00,189.25) rotate(-90)" font-size="12.5" fill="#1a1a1a" text-anchor="middle" textLength="77.5" lengthAdjust="spacingAndGlyphs">Off-rate (1 s<tspan dy="-6" font-size="7">−1</tspan><tspan dy="6">)</tspan></text>
<text x="0.00" y="0.00" font-size="18" text-anchor="start" fill="#000" font-weight="bold" stroke="#000" stroke-width="0.6" transform="translate(375.60,13.10) scale(1.12,1)">b</text>
<text x="562.50" y="14.50" font-size="12.5" text-anchor="middle" fill="#1a1a1a" font-weight="normal" textLength="122.7" lengthAdjust="spacingAndGlyphs">No Boost: Kikwit GP</text>
<text x="409.90" y="42.90" font-size="10" text-anchor="start" fill="#1a1a1a" font-weight="normal" textLength="29.2" lengthAdjust="spacingAndGlyphs">Mean:</text>
<text x="484.70" y="35.80" font-size="10" text-anchor="middle" fill="#1a1a1a" font-weight="normal" textLength="23.2" lengthAdjust="spacingAndGlyphs">0.06</text>
<text x="529.60" y="35.80" font-size="10" text-anchor="middle" fill="#1a1a1a" font-weight="normal" textLength="30.0" lengthAdjust="spacingAndGlyphs">0.005</text>
<text x="577.40" y="35.80" font-size="10" text-anchor="middle" fill="#1a1a1a" font-weight="normal" textLength="30.0" lengthAdjust="spacingAndGlyphs">0.004</text>
<text x="621.90" y="35.80" font-size="10" text-anchor="middle" fill="#1a1a1a" font-weight="normal" textLength="30.0" lengthAdjust="spacingAndGlyphs">0.004</text>
<text x="670.00" y="35.80" font-size="10" text-anchor="middle" fill="#1a1a1a" font-weight="normal" textLength="30.0" lengthAdjust="spacingAndGlyphs">0.004</text>
<text x="506.00" y="50.20" font-size="10" text-anchor="middle" fill="#1a1a1a" font-weight="normal" textLength="23.2" lengthAdjust="spacingAndGlyphs">0.02</text>
<text x="553.90" y="50.20" font-size="10" text-anchor="middle" fill="#1a1a1a" font-weight="normal" textLength="30.0" lengthAdjust="spacingAndGlyphs">0.004</text>
<text x="598.30" y="50.20" font-size="10" text-anchor="middle" fill="#1a1a1a" font-weight="normal" textLength="30.0" lengthAdjust="spacingAndGlyphs">0.004</text>
<text x="646.30" y="50.20" font-size="10" text-anchor="middle" fill="#1a1a1a" font-weight="normal" textLength="30.0" lengthAdjust="spacingAndGlyphs">0.004</text>
<polyline points="481.67,96.80 481.67,86.40 666.23,86.40 666.23,165.60" fill="none" stroke="#606060" stroke-width="1.0"/>
<text x="573.95" y="82.50" font-size="10" text-anchor="middle" fill="#1a1a1a" font-weight="normal" textLength="39.6" lengthAdjust="spacingAndGlyphs">&lt;0.0001</text>
<polyline points="481.67,112.80 481.67,102.80 643.16,102.80 643.16,187.00" fill="none" stroke="#606060" stroke-width="1.0"/>
<text x="562.42" y="98.80" font-size="10" text-anchor="middle" fill="#1a1a1a" font-weight="normal" textLength="39.6" lengthAdjust="spacingAndGlyphs">&lt;0.0001</text>
<polyline points="481.67,130.10 481.67,121.00 620.09,121.00 620.09,163.90" fill="none" stroke="#606060" stroke-width="1.0"/>
<text x="550.88" y="116.50" font-size="10" text-anchor="middle" fill="#1a1a1a" font-weight="normal" textLength="39.6" lengthAdjust="spacingAndGlyphs">&lt;0.0001</text>
<polyline points="481.67,144.70 481.67,135.00 597.02,135.00 597.02,164.90" fill="none" stroke="#606060" stroke-width="1.0"/>
<text x="539.35" y="130.80" font-size="10" text-anchor="middle" fill="#1a1a1a" font-weight="normal" textLength="39.6" lengthAdjust="spacingAndGlyphs">&lt;0.0001</text>
<polyline points="481.67,156.50 481.67,150.20 573.95,150.20 573.95,166.40" fill="none" stroke="#606060" stroke-width="1.0"/>
<text x="527.81" y="146.20" font-size="10" text-anchor="middle" fill="#1a1a1a" font-weight="normal" textLength="39.6" lengthAdjust="spacingAndGlyphs">&lt;0.0001</text>
<polyline points="481.67,173.80 481.67,167.00 550.88,167.00 550.88,173.70" fill="none" stroke="#606060" stroke-width="1.0"/>
<text x="516.27" y="162.80" font-size="10" text-anchor="middle" fill="#1a1a1a" font-weight="normal" textLength="39.6" lengthAdjust="spacingAndGlyphs">&lt;0.0001</text>
<polyline points="481.67,226.50 481.67,183.60 527.81,183.60 527.81,186.00" fill="none" stroke="#606060" stroke-width="1.0"/>
<text x="504.74" y="179.30" font-size="10" text-anchor="middle" fill="#1a1a1a" font-weight="normal" textLength="39.6" lengthAdjust="spacingAndGlyphs">&lt;0.0001</text>
<polyline points="481.67,239.80 504.74,218.00 527.81,188.00 550.88,186.40 573.95,179.30 597.02,178.00 620.09,177.00 643.16,178.20 666.23,178.90" fill="none" stroke="#0000ff" stroke-width="0.7"/>
<polyline points="481.67,242.58 504.74,220.19 527.81,190.77 550.88,190.46 573.95,191.21 597.02,188.50 620.09,190.50 643.16,188.60 666.23,187.50" fill="none" stroke="#0000ff" stroke-width="0.7"/>
<polyline points="481.67,243.58 504.74,221.19 527.81,189.05 550.88,190.89 573.95,191.77 597.02,190.94 620.09,190.94 643.16,190.01 666.23,189.30" fill="none" stroke="#0000ff" stroke-width="0.7"/>
<polyline points="481.67,244.78 504.74,219.36 527.81,192.40 550.88,187.06 573.95,189.00 597.02,191.01 620.09,190.71 643.16,190.13 666.23,188.17" fill="none" stroke="#0000ff" stroke-width="0.7"/>
<polyline points="481.67,245.46 504.74,219.72 527.81,192.47 550.88,187.63 573.95,191.99 597.02,191.81 620.09,190.85 643.16,189.52 666.23,189.31" fill="none" stroke="#0000ff" stroke-width="0.7"/>
<polyline points="481.67,242.62 504.74,221.20 527.81,189.62 550.88,192.76 573.95,191.52 597.02,191.91 620.09,194.55 643.16,190.19 666.23,189.80" fill="none" stroke="#0000ff" stroke-width="0.7"/>
<polyline points="481.67,244.85 504.74,221.29 527.81,195.22 550.88,195.07 573.95,191.87 597.02,194.35 620.09,193.24 643.16,190.81 666.23,195.23" fill="none" stroke="#0000ff" stroke-width="0.7"/>
<polyline points="481.67,246.04 504.74,221.39 527.81,190.67 550.88,188.87 573.95,192.61 597.02,195.32 620.09,195.04 643.16,192.07 666.23,196.25" fill="none" stroke="#0000ff" stroke-width="0.7"/>
<polyline points="481.67,251.54 504.74,221.61 527.81,196.04 550.88,193.37 573.95,193.55 597.02,193.77 620.09,193.74 643.16,192.11 666.23,196.90" fill="none" stroke="#0000ff" stroke-width="0.7"/>
<polyline points="481.67,246.13 504.74,222.65 527.81,196.30 550.88,190.95 573.95,194.41 597.02,195.28 620.09,193.97 643.16,192.84 666.23,190.65" fill="none" stroke="#0000ff" stroke-width="0.7"/>
<polyline points="481.67,251.81 504.74,224.56 527.81,195.35 550.88,191.58 573.95,193.99 597.02,195.53 620.09,195.48 643.16,193.46 666.23,197.74" fill="none" stroke="#0000ff" stroke-width="0.7"/>
<polyline points="481.67,251.71 504.74,223.42 527.81,196.26 550.88,195.29 573.95,194.48 597.02,195.72 620.09,196.19 643.16,197.59 666.23,198.36" fill="none" stroke="#0000ff" stroke-width="0.7"/>
<polyline points="481.67,249.55 504.74,224.47 527.81,196.76 550.88,193.23 573.95,194.17 597.02,197.54 620.09,195.88 643.16,195.26 666.23,198.50" fill="none" stroke="#0000ff" stroke-width="0.7"/>
<polyline points="481.67,254.64 504.74,229.62 527.81,201.42 550.88,197.24 573.95,197.02 597.02,198.49 620.09,196.82 643.16,198.19 666.23,199.34" fill="none" stroke="#0000ff" stroke-width="0.7"/>
<polyline points="481.67,253.09 504.74,228.54 527.81,196.77 550.88,196.77 573.95,197.72 597.02,197.80 620.09,197.38 643.16,198.32 666.23,199.57" fill="none" stroke="#0000ff" stroke-width="0.7"/>
<polyline points="481.67,254.12 504.74,232.34 527.81,202.23 550.88,194.31 573.95,195.42 597.02,199.78 620.09,200.32 643.16,201.48 666.23,200.33" fill="none" stroke="#0000ff" stroke-width="0.7"/>
<polyline points="481.67,259.97 504.74,233.41 527.81,202.14 550.88,201.36 573.95,198.31 597.02,198.99 620.09,198.80 643.16,201.53 666.23,201.39" fill="none" stroke="#0000ff" stroke-width="0.7"/>
<polyline points="481.67,255.04 504.74,231.70 527.81,200.64 550.88,196.08 573.95,201.25 597.02,199.43 620.09,200.64 643.16,199.42 666.23,201.83" fill="none" stroke="#0000ff" stroke-width="0.7"/>
<polyline points="481.67,258.42 504.74,232.79 527.81,197.00 550.88,199.87 573.95,199.45 597.02,203.50 620.09,198.90 643.16,200.66 666.23,201.23" fill="none" stroke="#0000ff" stroke-width="0.7"/>
<polyline points="481.67,259.44 504.74,234.61 527.81,203.30 550.88,201.72 573.95,199.75 597.02,202.03 620.09,200.48 643.16,203.00 666.23,202.94" fill="none" stroke="#0000ff" stroke-width="0.7"/>
<polyline points="481.67,258.12 504.74,233.59 527.81,204.00 550.88,199.78 573.95,200.73 597.02,202.36 620.09,201.45 643.16,202.68 666.23,203.36" fill="none" stroke="#0000ff" stroke-width="0.7"/>
<polyline points="481.67,259.50 527.81,231.60 550.88,202.80 573.95,202.00 597.02,202.94 620.09,202.00 643.16,202.72 666.23,203.50" fill="none" stroke="#0000ff" stroke-width="0.7"/>
<circle cx="481.67" cy="239.80" r="3.1" fill="#0000ff"/>
<circle cx="504.74" cy="218.00" r="3.1" fill="#0000ff"/>
<circle cx="527.81" cy="188.00" r="3.1" fill="#0000ff"/>
<circle cx="550.88" cy="186.40" r="3.1" fill="#0000ff"/>
<circle cx="573.95" cy="179.30" r="3.1" fill="#0000ff"/>
<circle cx="597.02" cy="178.00" r="3.1" fill="#0000ff"/>
<circle cx="620.09" cy="177.00" r="3.1" fill="#0000ff"/>
<circle cx="643.16" cy="178.20" r="3.1" fill="#0000ff"/>
<circle cx="666.23" cy="178.90" r="3.1" fill="#0000ff"/>
<circle cx="481.67" cy="242.58" r="3.1" fill="#0000ff"/>
<circle cx="504.74" cy="220.19" r="3.1" fill="#0000ff"/>
<circle cx="527.81" cy="190.77" r="3.1" fill="#0000ff"/>
<circle cx="550.88" cy="190.46" r="3.1" fill="#0000ff"/>
<circle cx="573.95" cy="191.21" r="3.1" fill="#0000ff"/>
<circle cx="597.02" cy="188.50" r="3.1" fill="#0000ff"/>
<circle cx="620.09" cy="190.50" r="3.1" fill="#0000ff"/>
<circle cx="643.16" cy="188.60" r="3.1" fill="#0000ff"/>
<circle cx="666.23" cy="187.50" r="3.1" fill="#0000ff"/>
<circle cx="481.67" cy="243.58" r="3.1" fill="#0000ff"/>
<circle cx="504.74" cy="221.19" r="3.1" fill="#0000ff"/>
<circle cx="527.81" cy="189.05" r="3.1" fill="#0000ff"/>
<circle cx="550.88" cy="190.89" r="3.1" fill="#0000ff"/>
<circle cx="573.95" cy="191.77" r="3.1" fill="#0000ff"/>
<circle cx="597.02" cy="190.94" r="3.1" fill="#0000ff"/>
<circle cx="620.09" cy="190.94" r="3.1" fill="#0000ff"/>
<circle cx="643.16" cy="190.01" r="3.1" fill="#0000ff"/>
<circle cx="666.23" cy="189.30" r="3.1" fill="#0000ff"/>
<circle cx="481.67" cy="244.78" r="3.1" fill="#0000ff"/>
<circle cx="504.74" cy="219.36" r="3.1" fill="#0000ff"/>
<circle cx="527.81" cy="192.40" r="3.1" fill="#0000ff"/>
<circle cx="550.88" cy="187.06" r="3.1" fill="#0000ff"/>
<circle cx="573.95" cy="189.00" r="3.1" fill="#0000ff"/>
<circle cx="597.02" cy="191.01" r="3.1" fill="#0000ff"/>
<circle cx="620.09" cy="190.71" r="3.1" fill="#0000ff"/>
<circle cx="643.16" cy="190.13" r="3.1" fill="#0000ff"/>
<circle cx="666.23" cy="188.17" r="3.1" fill="#0000ff"/>
<circle cx="481.67" cy="245.46" r="3.1" fill="#0000ff"/>
<circle cx="504.74" cy="219.72" r="3.1" fill="#0000ff"/>
<circle cx="527.81" cy="192.47" r="3.1" fill="#0000ff"/>
<circle cx="550.88" cy="187.63" r="3.1" fill="#0000ff"/>
<circle cx="573.95" cy="191.99" r="3.1" fill="#0000ff"/>
<circle cx="597.02" cy="191.81" r="3.1" fill="#0000ff"/>
<circle cx="620.09" cy="190.85" r="3.1" fill="#0000ff"/>
<circle cx="643.16" cy="189.52" r="3.1" fill="#0000ff"/>
<circle cx="666.23" cy="189.31" r="3.1" fill="#0000ff"/>
<circle cx="481.67" cy="242.62" r="3.1" fill="#0000ff"/>
<circle cx="504.74" cy="221.20" r="3.1" fill="#0000ff"/>
<circle cx="527.81" cy="189.62" r="3.1" fill="#0000ff"/>
<circle cx="550.88" cy="192.76" r="3.1" fill="#0000ff"/>
<circle cx="573.95" cy="191.52" r="3.1" fill="#0000ff"/>
<circle cx="597.02" cy="191.91" r="3.1" fill="#0000ff"/>
<circle cx="620.09" cy="194.55" r="3.1" fill="#0000ff"/>
<circle cx="643.16" cy="190.19" r="3.1" fill="#0000ff"/>
<circle cx="666.23" cy="189.80" r="3.1" fill="#0000ff"/>
<circle cx="481.67" cy="244.85" r="3.1" fill="#0000ff"/>
<circle cx="504.74" cy="221.29" r="3.1" fill="#0000ff"/>
<circle cx="527.81" cy="195.22" r="3.1" fill="#0000ff"/>
<circle cx="550.88" cy="195.07" r="3.1" fill="#0000ff"/>
<circle cx="573.95" cy="191.87" r="3.1" fill="#0000ff"/>
<circle cx="597.02" cy="194.35" r="3.1" fill="#0000ff"/>
<circle cx="620.09" cy="193.24" r="3.1" fill="#0000ff"/>
<circle cx="643.16" cy="190.81" r="3.1" fill="#0000ff"/>
<circle cx="666.23" cy="195.23" r="3.1" fill="#0000ff"/>
<circle cx="481.67" cy="246.04" r="3.1" fill="#0000ff"/>
<circle cx="504.74" cy="221.39" r="3.1" fill="#0000ff"/>
<circle cx="527.81" cy="190.67" r="3.1" fill="#0000ff"/>
<circle cx="550.88" cy="188.87" r="3.1" fill="#0000ff"/>
<circle cx="573.95" cy="192.61" r="3.1" fill="#0000ff"/>
<circle cx="597.02" cy="195.32" r="3.1" fill="#0000ff"/>
<circle cx="620.09" cy="195.04" r="3.1" fill="#0000ff"/>
<circle cx="643.16" cy="192.07" r="3.1" fill="#0000ff"/>
<circle cx="666.23" cy="196.25" r="3.1" fill="#0000ff"/>
<circle cx="481.67" cy="251.54" r="3.1" fill="#0000ff"/>
<circle cx="504.74" cy="221.61" r="3.1" fill="#0000ff"/>
<circle cx="527.81" cy="196.04" r="3.1" fill="#0000ff"/>
<circle cx="550.88" cy="193.37" r="3.1" fill="#0000ff"/>
<circle cx="573.95" cy="193.55" r="3.1" fill="#0000ff"/>
<circle cx="597.02" cy="193.77" r="3.1" fill="#0000ff"/>
<circle cx="620.09" cy="193.74" r="3.1" fill="#0000ff"/>
<circle cx="643.16" cy="192.11" r="3.1" fill="#0000ff"/>
<circle cx="666.23" cy="196.90" r="3.1" fill="#0000ff"/>
<circle cx="481.67" cy="246.13" r="3.1" fill="#0000ff"/>
<circle cx="504.74" cy="222.65" r="3.1" fill="#0000ff"/>
<circle cx="527.81" cy="196.30" r="3.1" fill="#0000ff"/>
<circle cx="550.88" cy="190.95" r="3.1" fill="#0000ff"/>
<circle cx="573.95" cy="194.41" r="3.1" fill="#0000ff"/>
<circle cx="597.02" cy="195.28" r="3.1" fill="#0000ff"/>
<circle cx="620.09" cy="193.97" r="3.1" fill="#0000ff"/>
<circle cx="643.16" cy="192.84" r="3.1" fill="#0000ff"/>
<circle cx="666.23" cy="190.65" r="3.1" fill="#0000ff"/>
<circle cx="481.67" cy="251.81" r="3.1" fill="#0000ff"/>
<circle cx="504.74" cy="224.56" r="3.1" fill="#0000ff"/>
<circle cx="527.81" cy="195.35" r="3.1" fill="#0000ff"/>
<circle cx="550.88" cy="191.58" r="3.1" fill="#0000ff"/>
<circle cx="573.95" cy="193.99" r="3.1" fill="#0000ff"/>
<circle cx="597.02" cy="195.53" r="3.1" fill="#0000ff"/>
<circle cx="620.09" cy="195.48" r="3.1" fill="#0000ff"/>
<circle cx="643.16" cy="193.46" r="3.1" fill="#0000ff"/>
<circle cx="666.23" cy="197.74" r="3.1" fill="#0000ff"/>
<circle cx="481.67" cy="251.71" r="3.1" fill="#0000ff"/>
<circle cx="504.74" cy="223.42" r="3.1" fill="#0000ff"/>
<circle cx="527.81" cy="196.26" r="3.1" fill="#0000ff"/>
<circle cx="550.88" cy="195.29" r="3.1" fill="#0000ff"/>
<circle cx="573.95" cy="194.48" r="3.1" fill="#0000ff"/>
<circle cx="597.02" cy="195.72" r="3.1" fill="#0000ff"/>
<circle cx="620.09" cy="196.19" r="3.1" fill="#0000ff"/>
<circle cx="643.16" cy="197.59" r="3.1" fill="#0000ff"/>
<circle cx="666.23" cy="198.36" r="3.1" fill="#0000ff"/>
<circle cx="481.67" cy="249.55" r="3.1" fill="#0000ff"/>
<circle cx="504.74" cy="224.47" r="3.1" fill="#0000ff"/>
<circle cx="527.81" cy="196.76" r="3.1" fill="#0000ff"/>
<circle cx="550.88" cy="193.23" r="3.1" fill="#0000ff"/>
<circle cx="573.95" cy="194.17" r="3.1" fill="#0000ff"/>
<circle cx="597.02" cy="197.54" r="3.1" fill="#0000ff"/>
<circle cx="620.09" cy="195.88" r="3.1" fill="#0000ff"/>
<circle cx="643.16" cy="195.26" r="3.1" fill="#0000ff"/>
<circle cx="666.23" cy="198.50" r="3.1" fill="#0000ff"/>
<circle cx="481.67" cy="254.64" r="3.1" fill="#0000ff"/>
<circle cx="504.74" cy="229.62" r="3.1" fill="#0000ff"/>
<circle cx="527.81" cy="201.42" r="3.1" fill="#0000ff"/>
<circle cx="550.88" cy="197.24" r="3.1" fill="#0000ff"/>
<circle cx="573.95" cy="197.02" r="3.1" fill="#0000ff"/>
<circle cx="597.02" cy="198.49" r="3.1" fill="#0000ff"/>
<circle cx="620.09" cy="196.82" r="3.1" fill="#0000ff"/>
<circle cx="643.16" cy="198.19" r="3.1" fill="#0000ff"/>
<circle cx="666.23" cy="199.34" r="3.1" fill="#0000ff"/>
<circle cx="481.67" cy="253.09" r="3.1" fill="#0000ff"/>
<circle cx="504.74" cy="228.54" r="3.1" fill="#0000ff"/>
<circle cx="527.81" cy="196.77" r="3.1" fill="#0000ff"/>
<circle cx="550.88" cy="196.77" r="3.1" fill="#0000ff"/>
<circle cx="573.95" cy="197.72" r="3.1" fill="#0000ff"/>
<circle cx="597.02" cy="197.80" r="3.1" fill="#0000ff"/>
<circle cx="620.09" cy="197.38" r="3.1" fill="#0000ff"/>
<circle cx="643.16" cy="198.32" r="3.1" fill="#0000ff"/>
<circle cx="666.23" cy="199.57" r="3.1" fill="#0000ff"/>
<circle cx="481.67" cy="254.12" r="3.1" fill="#0000ff"/>
<circle cx="504.74" cy="232.34" r="3.1" fill="#0000ff"/>
<circle cx="527.81" cy="202.23" r="3.1" fill="#0000ff"/>
<circle cx="550.88" cy="194.31" r="3.1" fill="#0000ff"/>
<circle cx="573.95" cy="195.42" r="3.1" fill="#0000ff"/>
<circle cx="597.02" cy="199.78" r="3.1" fill="#0000ff"/>
<circle cx="620.09" cy="200.32" r="3.1" fill="#0000ff"/>
<circle cx="643.16" cy="201.48" r="3.1" fill="#0000ff"/>
<circle cx="666.23" cy="200.33" r="3.1" fill="#0000ff"/>
<circle cx="481.67" cy="259.97" r="3.1" fill="#0000ff"/>
<circle cx="504.74" cy="233.41" r="3.1" fill="#0000ff"/>
<circle cx="527.81" cy="202.14" r="3.1" fill="#0000ff"/>
<circle cx="550.88" cy="201.36" r="3.1" fill="#0000ff"/>
<circle cx="573.95" cy="198.31" r="3.1" fill="#0000ff"/>
<circle cx="597.02" cy="198.99" r="3.1" fill="#0000ff"/>
<circle cx="620.09" cy="198.80" r="3.1" fill="#0000ff"/>
<circle cx="643.16" cy="201.53" r="3.1" fill="#0000ff"/>
<circle cx="666.23" cy="201.39" r="3.1" fill="#0000ff"/>
<circle cx="481.67" cy="255.04" r="3.1" fill="#0000ff"/>
<circle cx="504.74" cy="231.70" r="3.1" fill="#0000ff"/>
<circle cx="527.81" cy="200.64" r="3.1" fill="#0000ff"/>
<circle cx="550.88" cy="196.08" r="3.1" fill="#0000ff"/>
<circle cx="573.95" cy="201.25" r="3.1" fill="#0000ff"/>
<circle cx="597.02" cy="199.43" r="3.1" fill="#0000ff"/>
<circle cx="620.09" cy="200.64" r="3.1" fill="#0000ff"/>
<circle cx="643.16" cy="199.42" r="3.1" fill="#0000ff"/>
<circle cx="666.23" cy="201.83" r="3.1" fill="#0000ff"/>
<circle cx="481.67" cy="258.42" r="3.1" fill="#0000ff"/>
<circle cx="504.74" cy="232.79" r="3.1" fill="#0000ff"/>
<circle cx="527.81" cy="197.00" r="3.1" fill="#0000ff"/>
<circle cx="550.88" cy="199.87" r="3.1" fill="#0000ff"/>
<circle cx="573.95" cy="199.45" r="3.1" fill="#0000ff"/>
<circle cx="597.02" cy="203.50" r="3.1" fill="#0000ff"/>
<circle cx="620.09" cy="198.90" r="3.1" fill="#0000ff"/>
<circle cx="643.16" cy="200.66" r="3.1" fill="#0000ff"/>
<circle cx="666.23" cy="201.23" r="3.1" fill="#0000ff"/>
<circle cx="481.67" cy="259.44" r="3.1" fill="#0000ff"/>
<circle cx="504.74" cy="234.61" r="3.1" fill="#0000ff"/>
<circle cx="527.81" cy="203.30" r="3.1" fill="#0000ff"/>
<circle cx="550.88" cy="201.72" r="3.1" fill="#0000ff"/>
<circle cx="573.95" cy="199.75" r="3.1" fill="#0000ff"/>
<circle cx="597.02" cy="202.03" r="3.1" fill="#0000ff"/>
<circle cx="620.09" cy="200.48" r="3.1" fill="#0000ff"/>
<circle cx="643.16" cy="203.00" r="3.1" fill="#0000ff"/>
<circle cx="666.23" cy="202.94" r="3.1" fill="#0000ff"/>
<circle cx="481.67" cy="258.12" r="3.1" fill="#0000ff"/>
<circle cx="504.74" cy="233.59" r="3.1" fill="#0000ff"/>
<circle cx="527.81" cy="204.00" r="3.1" fill="#0000ff"/>
<circle cx="550.88" cy="199.78" r="3.1" fill="#0000ff"/>
<circle cx="573.95" cy="200.73" r="3.1" fill="#0000ff"/>
<circle cx="597.02" cy="202.36" r="3.1" fill="#0000ff"/>
<circle cx="620.09" cy="201.45" r="3.1" fill="#0000ff"/>
<circle cx="643.16" cy="202.68" r="3.1" fill="#0000ff"/>
<circle cx="666.23" cy="203.36" r="3.1" fill="#0000ff"/>
<circle cx="481.67" cy="259.50" r="3.1" fill="#0000ff"/>
<circle cx="527.81" cy="231.60" r="3.1" fill="#0000ff"/>
<circle cx="550.88" cy="202.80" r="3.1" fill="#0000ff"/>
<circle cx="573.95" cy="202.00" r="3.1" fill="#0000ff"/>
<circle cx="597.02" cy="202.94" r="3.1" fill="#0000ff"/>
<circle cx="620.09" cy="202.00" r="3.1" fill="#0000ff"/>
<circle cx="643.16" cy="202.72" r="3.1" fill="#0000ff"/>
<circle cx="666.23" cy="203.50" r="3.1" fill="#0000ff"/>
<line x1="105.50" y1="456.80" x2="105.50" y2="608.80" stroke="#555" stroke-width="1.1"/>
<line x1="100.90" y1="457.30" x2="105.50" y2="457.30" stroke="#555" stroke-width="1.0"/>
<line x1="102.90" y1="472.45" x2="105.50" y2="472.45" stroke="#555" stroke-width="0.9"/>
<line x1="102.90" y1="481.31" x2="105.50" y2="481.31" stroke="#555" stroke-width="0.9"/>
<line x1="102.90" y1="487.60" x2="105.50" y2="487.60" stroke="#555" stroke-width="0.9"/>
<line x1="102.90" y1="492.48" x2="105.50" y2="492.48" stroke="#555" stroke-width="0.9"/>
<line x1="102.90" y1="496.46" x2="105.50" y2="496.46" stroke="#555" stroke-width="0.9"/>
<line x1="102.90" y1="499.83" x2="105.50" y2="499.83" stroke="#555" stroke-width="0.9"/>
<line x1="102.90" y1="502.75" x2="105.50" y2="502.75" stroke="#555" stroke-width="0.9"/>
<line x1="102.90" y1="505.33" x2="105.50" y2="505.33" stroke="#555" stroke-width="0.9"/>
<g stroke="#1a1a1a" stroke-width="0.25">
<text x="62.00" y="461.10" font-size="10" text-anchor="start" fill="#1a1a1a" font-weight="normal" textLength="4.6" lengthAdjust="spacingAndGlyphs">1</text>
<text x="68.60" y="461.10" font-size="10" text-anchor="start" fill="#1a1a1a" font-weight="normal" textLength="5.2" lengthAdjust="spacingAndGlyphs">×</text>
<text x="76.20" y="461.10" font-size="10" text-anchor="start" fill="#1a1a1a" font-weight="normal" textLength="12.0" lengthAdjust="spacingAndGlyphs">10</text>
<text x="87.40" y="455.50" font-size="6.5" text-anchor="start" fill="#1a1a1a" font-weight="normal" textLength="7.8" lengthAdjust="spacingAndGlyphs">−4</text>
</g>
<line x1="100.90" y1="507.63" x2="105.50" y2="507.63" stroke="#555" stroke-width="1.0"/>
<line x1="102.90" y1="522.78" x2="105.50" y2="522.78" stroke="#555" stroke-width="0.9"/>
<line x1="102.90" y1="531.64" x2="105.50" y2="531.64" stroke="#555" stroke-width="0.9"/>
<line x1="102.90" y1="537.93" x2="105.50" y2="537.93" stroke="#555" stroke-width="0.9"/>
<line x1="102.90" y1="542.81" x2="105.50" y2="542.81" stroke="#555" stroke-width="0.9"/>
<line x1="102.90" y1="546.79" x2="105.50" y2="546.79" stroke="#555" stroke-width="0.9"/>
<line x1="102.90" y1="550.16" x2="105.50" y2="550.16" stroke="#555" stroke-width="0.9"/>
<line x1="102.90" y1="553.08" x2="105.50" y2="553.08" stroke="#555" stroke-width="0.9"/>
<line x1="102.90" y1="555.66" x2="105.50" y2="555.66" stroke="#555" stroke-width="0.9"/>
<g stroke="#1a1a1a" stroke-width="0.25">
<text x="62.00" y="511.43" font-size="10" text-anchor="start" fill="#1a1a1a" font-weight="normal" textLength="4.6" lengthAdjust="spacingAndGlyphs">1</text>
<text x="68.60" y="511.43" font-size="10" text-anchor="start" fill="#1a1a1a" font-weight="normal" textLength="5.2" lengthAdjust="spacingAndGlyphs">×</text>
<text x="76.20" y="511.43" font-size="10" text-anchor="start" fill="#1a1a1a" font-weight="normal" textLength="12.0" lengthAdjust="spacingAndGlyphs">10</text>
<text x="87.40" y="505.83" font-size="6.5" text-anchor="start" fill="#1a1a1a" font-weight="normal" textLength="7.8" lengthAdjust="spacingAndGlyphs">−3</text>
</g>
<line x1="100.90" y1="557.96" x2="105.50" y2="557.96" stroke="#555" stroke-width="1.0"/>
<line x1="102.90" y1="573.11" x2="105.50" y2="573.11" stroke="#555" stroke-width="0.9"/>
<line x1="102.90" y1="581.97" x2="105.50" y2="581.97" stroke="#555" stroke-width="0.9"/>
<line x1="102.90" y1="588.26" x2="105.50" y2="588.26" stroke="#555" stroke-width="0.9"/>
<line x1="102.90" y1="593.14" x2="105.50" y2="593.14" stroke="#555" stroke-width="0.9"/>
<line x1="102.90" y1="597.12" x2="105.50" y2="597.12" stroke="#555" stroke-width="0.9"/>
<line x1="102.90" y1="600.49" x2="105.50" y2="600.49" stroke="#555" stroke-width="0.9"/>
<line x1="102.90" y1="603.41" x2="105.50" y2="603.41" stroke="#555" stroke-width="0.9"/>
<line x1="102.90" y1="605.99" x2="105.50" y2="605.99" stroke="#555" stroke-width="0.9"/>
<g stroke="#1a1a1a" stroke-width="0.25">
<text x="62.00" y="561.76" font-size="10" text-anchor="start" fill="#1a1a1a" font-weight="normal" textLength="4.6" lengthAdjust="spacingAndGlyphs">1</text>
<text x="68.60" y="561.76" font-size="10" text-anchor="start" fill="#1a1a1a" font-weight="normal" textLength="5.2" lengthAdjust="spacingAndGlyphs">×</text>
<text x="76.20" y="561.76" font-size="10" text-anchor="start" fill="#1a1a1a" font-weight="normal" textLength="12.0" lengthAdjust="spacingAndGlyphs">10</text>
<text x="87.40" y="556.16" font-size="6.5" text-anchor="start" fill="#1a1a1a" font-weight="normal" textLength="7.8" lengthAdjust="spacingAndGlyphs">−2</text>
</g>
<line x1="100.90" y1="608.29" x2="105.50" y2="608.29" stroke="#555" stroke-width="1.0"/>
<g stroke="#1a1a1a" stroke-width="0.25">
<text x="62.00" y="612.09" font-size="10" text-anchor="start" fill="#1a1a1a" font-weight="normal" textLength="4.6" lengthAdjust="spacingAndGlyphs">1</text>
<text x="68.60" y="612.09" font-size="10" text-anchor="start" fill="#1a1a1a" font-weight="normal" textLength="5.2" lengthAdjust="spacingAndGlyphs">×</text>
<text x="76.20" y="612.09" font-size="10" text-anchor="start" fill="#1a1a1a" font-weight="normal" textLength="12.0" lengthAdjust="spacingAndGlyphs">10</text>
<text x="87.40" y="606.49" font-size="6.5" text-anchor="start" fill="#1a1a1a" font-weight="normal" textLength="6.6" lengthAdjust="spacingAndGlyphs">−1</text>
</g>
<line x1="100.90" y1="608.30" x2="343.80" y2="608.30" stroke="#555" stroke-width="1.1"/>
<line x1="120.50" y1="608.30" x2="120.50" y2="612.70" stroke="#555" stroke-width="1.0"/>
<text x="0.00" y="0.00" font-size="10.8" text-anchor="end" fill="#1a1a1a" font-weight="normal" transform="translate(125.00,623.00) rotate(-45)">M0</text>
<line x1="143.54" y1="608.30" x2="143.54" y2="612.70" stroke="#555" stroke-width="1.0"/>
<text x="0.00" y="0.00" font-size="10.8" text-anchor="end" fill="#1a1a1a" font-weight="normal" transform="translate(148.04,623.00) rotate(-45)">M1</text>
<line x1="166.58" y1="608.30" x2="166.58" y2="612.70" stroke="#555" stroke-width="1.0"/>
<text x="0.00" y="0.00" font-size="10.8" text-anchor="end" fill="#1a1a1a" font-weight="normal" transform="translate(171.08,623.00) rotate(-45)">M3</text>
<line x1="189.62" y1="608.30" x2="189.62" y2="612.70" stroke="#555" stroke-width="1.0"/>
<text x="0.00" y="0.00" font-size="10.8" text-anchor="end" fill="#1a1a1a" font-weight="normal" transform="translate(194.12,623.00) rotate(-45)">M6</text>
<line x1="212.66" y1="608.30" x2="212.66" y2="612.70" stroke="#555" stroke-width="1.0"/>
<text x="0.00" y="0.00" font-size="10.8" text-anchor="end" fill="#1a1a1a" font-weight="normal" transform="translate(217.16,623.00) rotate(-45)">M12</text>
<line x1="235.70" y1="608.30" x2="235.70" y2="612.70" stroke="#555" stroke-width="1.0"/>
<text x="0.00" y="0.00" font-size="10.8" text-anchor="end" fill="#1a1a1a" font-weight="normal" transform="translate(240.20,623.00) rotate(-45)">M18</text>
<line x1="258.74" y1="608.30" x2="258.74" y2="612.70" stroke="#555" stroke-width="1.0"/>
<text x="0.00" y="0.00" font-size="10.8" text-anchor="end" fill="#1a1a1a" font-weight="normal" transform="translate(263.24,623.00) rotate(-45)">M19</text>
<line x1="281.78" y1="608.30" x2="281.78" y2="612.70" stroke="#555" stroke-width="1.0"/>
<text x="0.00" y="0.00" font-size="10.8" text-anchor="end" fill="#1a1a1a" font-weight="normal" transform="translate(286.28,623.00) rotate(-45)">M24</text>
<line x1="304.82" y1="608.30" x2="304.82" y2="612.70" stroke="#555" stroke-width="1.0"/>
<text x="0.00" y="0.00" font-size="10.8" text-anchor="end" fill="#1a1a1a" font-weight="normal" transform="translate(309.32,623.00) rotate(-45)">M30</text>
<line x1="327.86" y1="608.30" x2="327.86" y2="612.70" stroke="#555" stroke-width="1.0"/>
<text x="0.00" y="0.00" font-size="10.8" text-anchor="end" fill="#1a1a1a" font-weight="normal" transform="translate(332.36,623.00) rotate(-45)">M36</text>
<text x="225.20" y="656.90" font-size="12" text-anchor="middle" fill="#1a1a1a" font-weight="normal" textLength="222.7" lengthAdjust="spacingAndGlyphs">Postvaccination time point (in months)</text>
<text transform="translate(49.00,532.20) rotate(-90)" font-size="12.5" fill="#1a1a1a" text-anchor="middle" textLength="77.5" lengthAdjust="spacingAndGlyphs">Off-rate (1 s<tspan dy="-6" font-size="7">−1</tspan><tspan dy="6">)</tspan></text>
<text x="0.00" y="0.00" font-size="18" text-anchor="start" fill="#000" font-weight="bold" stroke="#000" stroke-width="0.6" transform="translate(37.50,352.90) scale(1.0,1)">c</text>
<text x="224.80" y="354.00" font-size="12.5" text-anchor="middle" fill="#1a1a1a" font-weight="normal" textLength="156.0" lengthAdjust="spacingAndGlyphs">Prime–Boost: Makona GP</text>
<text x="72.30" y="382.20" font-size="10" text-anchor="start" fill="#1a1a1a" font-weight="normal" textLength="29.2" lengthAdjust="spacingAndGlyphs">Mean:</text>
<text x="143.70" y="375.00" font-size="10" text-anchor="middle" fill="#1a1a1a" font-weight="normal" textLength="23.2" lengthAdjust="spacingAndGlyphs">0.07</text>
<text x="188.50" y="375.00" font-size="10" text-anchor="middle" fill="#1a1a1a" font-weight="normal" textLength="30.0" lengthAdjust="spacingAndGlyphs">0.005</text>
<text x="235.90" y="375.00" font-size="10" text-anchor="middle" fill="#1a1a1a" font-weight="normal" textLength="30.0" lengthAdjust="spacingAndGlyphs">0.004</text>
<text x="281.20" y="375.00" font-size="10" text-anchor="middle" fill="#1a1a1a" font-weight="normal" textLength="36.0" lengthAdjust="spacingAndGlyphs">0.0003</text>
<text x="328.80" y="375.00" font-size="10" text-anchor="middle" fill="#1a1a1a" font-weight="normal" textLength="36.0" lengthAdjust="spacingAndGlyphs">0.0004</text>
<text x="165.90" y="389.00" font-size="10" text-anchor="middle" fill="#1a1a1a" font-weight="normal" textLength="23.2" lengthAdjust="spacingAndGlyphs">0.02</text>
<text x="210.70" y="389.00" font-size="10" text-anchor="middle" fill="#1a1a1a" font-weight="normal" textLength="30.0" lengthAdjust="spacingAndGlyphs">0.004</text>
<text x="258.50" y="389.00" font-size="10" text-anchor="middle" fill="#1a1a1a" font-weight="normal" textLength="36.0" lengthAdjust="spacingAndGlyphs">0.0003</text>
<text x="306.30" y="389.00" font-size="10" text-anchor="middle" fill="#1a1a1a" font-weight="normal" textLength="36.0" lengthAdjust="spacingAndGlyphs">0.0004</text>
<polyline points="143.54,422.30 143.54,412.70 327.86,412.70 327.86,461.00" fill="none" stroke="#606060" stroke-width="1.0"/>
<text x="235.70" y="409.50" font-size="10" text-anchor="middle" fill="#1a1a1a" font-weight="normal" textLength="39.6" lengthAdjust="spacingAndGlyphs">&lt;0.0001</text>
<polyline points="143.54,434.20 143.54,427.80 304.82,427.80 304.82,458.20" fill="none" stroke="#606060" stroke-width="1.0"/>
<text x="224.18" y="424.20" font-size="10" text-anchor="middle" fill="#1a1a1a" font-weight="normal" textLength="39.6" lengthAdjust="spacingAndGlyphs">&lt;0.0001</text>
<polyline points="143.54,452.90 143.54,442.70 281.78,442.70 281.78,451.80" fill="none" stroke="#606060" stroke-width="1.0"/>
<text x="212.66" y="439.00" font-size="10" text-anchor="middle" fill="#1a1a1a" font-weight="normal" textLength="39.6" lengthAdjust="spacingAndGlyphs">&lt;0.0001</text>
<polyline points="143.54,478.80 143.54,458.40 258.74,458.40 258.74,462.00" fill="none" stroke="#606060" stroke-width="1.0"/>
<text x="201.14" y="454.80" font-size="10" text-anchor="middle" fill="#1a1a1a" font-weight="normal" textLength="39.6" lengthAdjust="spacingAndGlyphs">&lt;0.0001</text>
<polyline points="143.54,496.10 143.54,486.40 235.70,486.40 235.70,511.00" fill="none" stroke="#606060" stroke-width="1.0"/>
<text x="189.62" y="482.90" font-size="10" text-anchor="middle" fill="#1a1a1a" font-weight="normal" textLength="39.6" lengthAdjust="spacingAndGlyphs">&lt;0.0001</text>
<polyline points="143.54,503.50 143.54,503.50 212.66,503.50 212.66,518.30" fill="none" stroke="#606060" stroke-width="1.0"/>
<text x="178.10" y="499.80" font-size="10" text-anchor="middle" fill="#1a1a1a" font-weight="normal" textLength="39.6" lengthAdjust="spacingAndGlyphs">&lt;0.0001</text>
<polyline points="143.54,521.90 143.54,521.90 189.62,521.90 189.62,523.00" fill="none" stroke="#606060" stroke-width="1.0"/>
<text x="166.58" y="517.90" font-size="10" text-anchor="middle" fill="#1a1a1a" font-weight="normal" textLength="39.6" lengthAdjust="spacingAndGlyphs">&lt;0.0001</text>
<polyline points="143.54,576.50 143.54,539.70 166.58,539.70 166.58,539.70" fill="none" stroke="#606060" stroke-width="1.0"/>
<text x="155.06" y="535.20" font-size="10" text-anchor="middle" fill="#1a1a1a" font-weight="normal" textLength="39.6" lengthAdjust="spacingAndGlyphs">&lt;0.0001</text>
<polyline points="235.80,552.90 235.80,565.60 258.60,565.60 258.60,526.50" fill="none" stroke="#606060" stroke-width="1.0"/>
<text x="247.20" y="582.50" font-size="10" text-anchor="middle" fill="#1a1a1a" font-weight="normal" textLength="39.6" lengthAdjust="spacingAndGlyphs">&lt;0.0001</text>
<polyline points="143.54,590.00 166.58,543.90 189.62,537.37 212.66,533.00 235.70,521.00 258.74,464.31 281.78,475.21 304.82,464.60 327.86,471.63" fill="none" stroke="#000" stroke-width="0.55"/>
<polyline points="143.54,595.71 166.58,565.19 189.62,541.68 212.66,535.79 235.70,538.30 258.74,467.29 281.78,473.73 304.82,465.03 327.86,475.04" fill="none" stroke="#000" stroke-width="0.55"/>
<polyline points="143.54,590.12 166.58,564.88 189.62,539.71 212.66,536.92 235.70,540.24 258.74,470.84 281.78,464.60 304.82,465.48 327.86,470.00" fill="none" stroke="#000" stroke-width="0.55"/>
<polyline points="143.54,594.41 166.58,566.62 189.62,535.00 212.66,523.00 235.70,541.09 258.74,475.73 281.78,470.01 304.82,467.94 327.86,478.84" fill="none" stroke="#000" stroke-width="0.55"/>
<polyline points="143.54,593.44 166.58,565.80 189.62,541.72 212.66,539.71 235.70,532.00 258.74,463.00 281.78,477.66 304.82,465.31 327.86,486.40" fill="none" stroke="#000" stroke-width="0.55"/>
<polyline points="143.54,598.40 166.58,568.25 189.62,538.95 212.66,526.00 235.70,523.70 258.74,468.97 281.78,479.56 304.82,481.90 327.86,477.25" fill="none" stroke="#000" stroke-width="0.55"/>
<polyline points="143.54,598.17 166.58,567.05 189.62,535.07 212.66,536.27 235.70,539.94 258.74,471.76 281.78,477.74 304.82,472.80 327.86,478.88" fill="none" stroke="#000" stroke-width="0.55"/>
<polyline points="143.54,596.77 166.58,571.50 189.62,536.29 212.66,534.23 235.70,542.78 258.74,477.07 281.78,472.80 304.82,477.30 327.86,473.83" fill="none" stroke="#000" stroke-width="0.55"/>
<polyline points="143.54,596.33 166.58,564.00 189.62,541.60 212.66,539.64 235.70,544.73 258.74,472.22 281.78,475.29 304.82,470.00 327.86,474.00" fill="none" stroke="#000" stroke-width="0.55"/>
<polyline points="143.54,598.02 166.58,567.00 189.62,542.90 212.66,548.16 235.70,539.09 258.74,476.72 281.78,482.50 304.82,468.00 327.86,496.50" fill="none" stroke="#000" stroke-width="0.55"/>
<polyline points="143.54,596.73 166.58,565.23 189.62,543.91 212.66,545.57 235.70,543.43 258.74,478.00 281.78,478.22 304.82,488.30 327.86,476.00" fill="none" stroke="#000" stroke-width="0.55"/>
<polyline points="143.54,600.33 166.58,578.50 189.62,542.40 212.66,541.35 235.70,543.83 258.74,485.50 281.78,481.25 304.82,466.00 327.86,479.20" fill="none" stroke="#000" stroke-width="0.55"/>
<polyline points="143.54,599.05 166.58,567.95 189.62,544.24 212.66,541.58 235.70,540.49 304.82,466.00 327.86,478.00" fill="none" stroke="#000" stroke-width="0.55"/>
<polyline points="143.54,600.11 166.58,585.50 189.62,542.91 212.66,545.15 235.70,546.49 258.74,497.50 281.78,497.50 304.82,497.50 327.86,502.80" fill="none" stroke="#000" stroke-width="0.55"/>
<polyline points="143.54,601.50 166.58,570.08 189.62,545.57 212.66,548.35 235.70,545.20 258.74,500.00 281.78,499.50 304.82,500.00 327.86,504.00" fill="none" stroke="#000" stroke-width="0.55"/>
<polyline points="143.54,604.00 189.62,544.98 212.66,547.36 235.70,546.48 258.74,502.00 281.78,501.50 304.82,502.50 327.86,505.50" fill="none" stroke="#000" stroke-width="0.55"/>
<polyline points="143.54,602.11 166.58,580.50 189.62,546.52 212.66,547.94 235.70,547.00 258.74,504.50 281.78,503.00 304.82,505.50 327.86,506.50" fill="none" stroke="#000" stroke-width="0.55"/>
<polyline points="143.54,600.63 166.58,585.50 189.62,548.00 212.66,548.50 235.70,546.59 258.74,504.50 281.78,504.50 304.82,505.50 327.86,506.50" fill="none" stroke="#000" stroke-width="0.55"/>
<circle cx="143.54" cy="590.00" r="3.1" fill="#000"/>
<circle cx="166.58" cy="543.90" r="3.1" fill="#000"/>
<circle cx="189.62" cy="537.37" r="3.1" fill="#000"/>
<circle cx="212.66" cy="533.00" r="3.1" fill="#000"/>
<circle cx="235.70" cy="521.00" r="3.1" fill="#000"/>
<circle cx="258.74" cy="464.31" r="3.1" fill="#000"/>
<circle cx="281.78" cy="475.21" r="3.1" fill="#000"/>
<circle cx="304.82" cy="464.60" r="3.1" fill="#000"/>
<circle cx="327.86" cy="471.63" r="3.1" fill="#000"/>
<circle cx="143.54" cy="595.71" r="3.1" fill="#000"/>
<circle cx="166.58" cy="565.19" r="3.1" fill="#000"/>
<circle cx="189.62" cy="541.68" r="3.1" fill="#000"/>
<circle cx="212.66" cy="535.79" r="3.1" fill="#000"/>
<circle cx="235.70" cy="538.30" r="3.1" fill="#000"/>
<circle cx="258.74" cy="467.29" r="3.1" fill="#000"/>
<circle cx="281.78" cy="473.73" r="3.1" fill="#000"/>
<circle cx="304.82" cy="465.03" r="3.1" fill="#000"/>
<circle cx="327.86" cy="475.04" r="3.1" fill="#000"/>
<circle cx="143.54" cy="590.12" r="3.1" fill="#000"/>
<circle cx="166.58" cy="564.88" r="3.1" fill="#000"/>
<circle cx="189.62" cy="539.71" r="3.1" fill="#000"/>
<circle cx="212.66" cy="536.92" r="3.1" fill="#000"/>
<circle cx="235.70" cy="540.24" r="3.1" fill="#000"/>
<circle cx="258.74" cy="470.84" r="3.1" fill="#000"/>
<circle cx="281.78" cy="464.60" r="3.1" fill="#000"/>
<circle cx="304.82" cy="465.48" r="3.1" fill="#000"/>
<circle cx="327.86" cy="470.00" r="3.1" fill="#000"/>
<circle cx="143.54" cy="594.41" r="3.1" fill="#000"/>
<circle cx="166.58" cy="566.62" r="3.1" fill="#000"/>
<circle cx="189.62" cy="535.00" r="3.1" fill="#000"/>
<circle cx="212.66" cy="523.00" r="3.1" fill="#000"/>
<circle cx="235.70" cy="541.09" r="3.1" fill="#000"/>
<circle cx="258.74" cy="475.73" r="3.1" fill="#000"/>
<circle cx="281.78" cy="470.01" r="3.1" fill="#000"/>
<circle cx="304.82" cy="467.94" r="3.1" fill="#000"/>
<circle cx="327.86" cy="478.84" r="3.1" fill="#000"/>
<circle cx="143.54" cy="593.44" r="3.1" fill="#000"/>
<circle cx="166.58" cy="565.80" r="3.1" fill="#000"/>
<circle cx="189.62" cy="541.72" r="3.1" fill="#000"/>
<circle cx="212.66" cy="539.71" r="3.1" fill="#000"/>
<circle cx="235.70" cy="532.00" r="3.1" fill="#000"/>
<circle cx="258.74" cy="463.00" r="3.1" fill="#000"/>
<circle cx="281.78" cy="477.66" r="3.1" fill="#000"/>
<circle cx="304.82" cy="465.31" r="3.1" fill="#000"/>
<circle cx="327.86" cy="486.40" r="3.1" fill="#000"/>
<circle cx="143.54" cy="598.40" r="3.1" fill="#000"/>
<circle cx="166.58" cy="568.25" r="3.1" fill="#000"/>
<circle cx="189.62" cy="538.95" r="3.1" fill="#000"/>
<circle cx="212.66" cy="526.00" r="3.1" fill="#000"/>
<circle cx="235.70" cy="523.70" r="3.1" fill="#000"/>
<circle cx="258.74" cy="468.97" r="3.1" fill="#000"/>
<circle cx="281.78" cy="479.56" r="3.1" fill="#000"/>
<circle cx="304.82" cy="481.90" r="3.1" fill="#000"/>
<circle cx="327.86" cy="477.25" r="3.1" fill="#000"/>
<circle cx="143.54" cy="598.17" r="3.1" fill="#000"/>
<circle cx="166.58" cy="567.05" r="3.1" fill="#000"/>
<circle cx="189.62" cy="535.07" r="3.1" fill="#000"/>
<circle cx="212.66" cy="536.27" r="3.1" fill="#000"/>
<circle cx="235.70" cy="539.94" r="3.1" fill="#000"/>
<circle cx="258.74" cy="471.76" r="3.1" fill="#000"/>
<circle cx="281.78" cy="477.74" r="3.1" fill="#000"/>
<circle cx="304.82" cy="472.80" r="3.1" fill="#000"/>
<circle cx="327.86" cy="478.88" r="3.1" fill="#000"/>
<circle cx="143.54" cy="596.77" r="3.1" fill="#000"/>
<circle cx="166.58" cy="571.50" r="3.1" fill="#000"/>
<circle cx="189.62" cy="536.29" r="3.1" fill="#000"/>
<circle cx="212.66" cy="534.23" r="3.1" fill="#000"/>
<circle cx="235.70" cy="542.78" r="3.1" fill="#000"/>
<circle cx="258.74" cy="477.07" r="3.1" fill="#000"/>
<circle cx="281.78" cy="472.80" r="3.1" fill="#000"/>
<circle cx="304.82" cy="477.30" r="3.1" fill="#000"/>
<circle cx="327.86" cy="473.83" r="3.1" fill="#000"/>
<circle cx="143.54" cy="596.33" r="3.1" fill="#000"/>
<circle cx="166.58" cy="564.00" r="3.1" fill="#000"/>
<circle cx="189.62" cy="541.60" r="3.1" fill="#000"/>
<circle cx="212.66" cy="539.64" r="3.1" fill="#000"/>
<circle cx="235.70" cy="544.73" r="3.1" fill="#000"/>
<circle cx="258.74" cy="472.22" r="3.1" fill="#000"/>
<circle cx="281.78" cy="475.29" r="3.1" fill="#000"/>
<circle cx="304.82" cy="470.00" r="3.1" fill="#000"/>
<circle cx="327.86" cy="474.00" r="3.1" fill="#000"/>
<circle cx="143.54" cy="598.02" r="3.1" fill="#000"/>
<circle cx="166.58" cy="567.00" r="3.1" fill="#000"/>
<circle cx="189.62" cy="542.90" r="3.1" fill="#000"/>
<circle cx="212.66" cy="548.16" r="3.1" fill="#000"/>
<circle cx="235.70" cy="539.09" r="3.1" fill="#000"/>
<circle cx="258.74" cy="476.72" r="3.1" fill="#000"/>
<circle cx="281.78" cy="482.50" r="3.1" fill="#000"/>
<circle cx="304.82" cy="468.00" r="3.1" fill="#000"/>
<circle cx="327.86" cy="496.50" r="3.1" fill="#000"/>
<circle cx="143.54" cy="596.73" r="3.1" fill="#000"/>
<circle cx="166.58" cy="565.23" r="3.1" fill="#000"/>
<circle cx="189.62" cy="543.91" r="3.1" fill="#000"/>
<circle cx="212.66" cy="545.57" r="3.1" fill="#000"/>
<circle cx="235.70" cy="543.43" r="3.1" fill="#000"/>
<circle cx="258.74" cy="478.00" r="3.1" fill="#000"/>
<circle cx="281.78" cy="478.22" r="3.1" fill="#000"/>
<circle cx="304.82" cy="488.30" r="3.1" fill="#000"/>
<circle cx="327.86" cy="476.00" r="3.1" fill="#000"/>
<circle cx="143.54" cy="600.33" r="3.1" fill="#000"/>
<circle cx="166.58" cy="578.50" r="3.1" fill="#000"/>
<circle cx="189.62" cy="542.40" r="3.1" fill="#000"/>
<circle cx="212.66" cy="541.35" r="3.1" fill="#000"/>
<circle cx="235.70" cy="543.83" r="3.1" fill="#000"/>
<circle cx="258.74" cy="485.50" r="3.1" fill="#000"/>
<circle cx="281.78" cy="481.25" r="3.1" fill="#000"/>
<circle cx="304.82" cy="466.00" r="3.1" fill="#000"/>
<circle cx="327.86" cy="479.20" r="3.1" fill="#000"/>
<circle cx="143.54" cy="599.05" r="3.1" fill="#000"/>
<circle cx="166.58" cy="567.95" r="3.1" fill="#000"/>
<circle cx="189.62" cy="544.24" r="3.1" fill="#000"/>
<circle cx="212.66" cy="541.58" r="3.1" fill="#000"/>
<circle cx="235.70" cy="540.49" r="3.1" fill="#000"/>
<circle cx="304.82" cy="466.00" r="3.1" fill="#000"/>
<circle cx="327.86" cy="478.00" r="3.1" fill="#000"/>
<circle cx="143.54" cy="600.11" r="3.1" fill="#000"/>
<circle cx="166.58" cy="585.50" r="3.1" fill="#000"/>
<circle cx="189.62" cy="542.91" r="3.1" fill="#000"/>
<circle cx="212.66" cy="545.15" r="3.1" fill="#000"/>
<circle cx="235.70" cy="546.49" r="3.1" fill="#000"/>
<circle cx="258.74" cy="497.50" r="3.1" fill="#000"/>
<circle cx="281.78" cy="497.50" r="3.1" fill="#000"/>
<circle cx="304.82" cy="497.50" r="3.1" fill="#000"/>
<circle cx="327.86" cy="502.80" r="3.1" fill="#000"/>
<circle cx="143.54" cy="601.50" r="3.1" fill="#000"/>
<circle cx="166.58" cy="570.08" r="3.1" fill="#000"/>
<circle cx="189.62" cy="545.57" r="3.1" fill="#000"/>
<circle cx="212.66" cy="548.35" r="3.1" fill="#000"/>
<circle cx="235.70" cy="545.20" r="3.1" fill="#000"/>
<circle cx="258.74" cy="500.00" r="3.1" fill="#000"/>
<circle cx="281.78" cy="499.50" r="3.1" fill="#000"/>
<circle cx="304.82" cy="500.00" r="3.1" fill="#000"/>
<circle cx="327.86" cy="504.00" r="3.1" fill="#000"/>
<circle cx="143.54" cy="604.00" r="3.1" fill="#000"/>
<circle cx="189.62" cy="544.98" r="3.1" fill="#000"/>
<circle cx="212.66" cy="547.36" r="3.1" fill="#000"/>
<circle cx="235.70" cy="546.48" r="3.1" fill="#000"/>
<circle cx="258.74" cy="502.00" r="3.1" fill="#000"/>
<circle cx="281.78" cy="501.50" r="3.1" fill="#000"/>
<circle cx="304.82" cy="502.50" r="3.1" fill="#000"/>
<circle cx="327.86" cy="505.50" r="3.1" fill="#000"/>
<circle cx="143.54" cy="602.11" r="3.1" fill="#000"/>
<circle cx="166.58" cy="580.50" r="3.1" fill="#000"/>
<circle cx="189.62" cy="546.52" r="3.1" fill="#000"/>
<circle cx="212.66" cy="547.94" r="3.1" fill="#000"/>
<circle cx="235.70" cy="547.00" r="3.1" fill="#000"/>
<circle cx="258.74" cy="504.50" r="3.1" fill="#000"/>
<circle cx="281.78" cy="503.00" r="3.1" fill="#000"/>
<circle cx="304.82" cy="505.50" r="3.1" fill="#000"/>
<circle cx="327.86" cy="506.50" r="3.1" fill="#000"/>
<circle cx="143.54" cy="600.63" r="3.1" fill="#000"/>
<circle cx="166.58" cy="585.50" r="3.1" fill="#000"/>
<circle cx="189.62" cy="548.00" r="3.1" fill="#000"/>
<circle cx="212.66" cy="548.50" r="3.1" fill="#000"/>
<circle cx="235.70" cy="546.59" r="3.1" fill="#000"/>
<circle cx="258.74" cy="504.50" r="3.1" fill="#000"/>
<circle cx="281.78" cy="504.50" r="3.1" fill="#000"/>
<circle cx="304.82" cy="505.50" r="3.1" fill="#000"/>
<circle cx="327.86" cy="506.50" r="3.1" fill="#000"/>
<line x1="443.10" y1="454.70" x2="443.10" y2="608.80" stroke="#555" stroke-width="1.1"/>
<line x1="438.50" y1="455.20" x2="443.10" y2="455.20" stroke="#555" stroke-width="1.0"/>
<line x1="440.50" y1="470.56" x2="443.10" y2="470.56" stroke="#555" stroke-width="0.9"/>
<line x1="440.50" y1="479.55" x2="443.10" y2="479.55" stroke="#555" stroke-width="0.9"/>
<line x1="440.50" y1="485.92" x2="443.10" y2="485.92" stroke="#555" stroke-width="0.9"/>
<line x1="440.50" y1="490.87" x2="443.10" y2="490.87" stroke="#555" stroke-width="0.9"/>
<line x1="440.50" y1="494.91" x2="443.10" y2="494.91" stroke="#555" stroke-width="0.9"/>
<line x1="440.50" y1="498.33" x2="443.10" y2="498.33" stroke="#555" stroke-width="0.9"/>
<line x1="440.50" y1="501.28" x2="443.10" y2="501.28" stroke="#555" stroke-width="0.9"/>
<line x1="440.50" y1="503.89" x2="443.10" y2="503.89" stroke="#555" stroke-width="0.9"/>
<g stroke="#1a1a1a" stroke-width="0.25">
<text x="400.20" y="459.00" font-size="10" text-anchor="start" fill="#1a1a1a" font-weight="normal" textLength="4.6" lengthAdjust="spacingAndGlyphs">1</text>
<text x="406.80" y="459.00" font-size="10" text-anchor="start" fill="#1a1a1a" font-weight="normal" textLength="5.2" lengthAdjust="spacingAndGlyphs">×</text>
<text x="414.40" y="459.00" font-size="10" text-anchor="start" fill="#1a1a1a" font-weight="normal" textLength="12.0" lengthAdjust="spacingAndGlyphs">10</text>
<text x="425.60" y="453.40" font-size="6.5" text-anchor="start" fill="#1a1a1a" font-weight="normal" textLength="7.8" lengthAdjust="spacingAndGlyphs">−4</text>
</g>
<line x1="438.50" y1="506.23" x2="443.10" y2="506.23" stroke="#555" stroke-width="1.0"/>
<line x1="440.50" y1="521.59" x2="443.10" y2="521.59" stroke="#555" stroke-width="0.9"/>
<line x1="440.50" y1="530.58" x2="443.10" y2="530.58" stroke="#555" stroke-width="0.9"/>
<line x1="440.50" y1="536.95" x2="443.10" y2="536.95" stroke="#555" stroke-width="0.9"/>
<line x1="440.50" y1="541.90" x2="443.10" y2="541.90" stroke="#555" stroke-width="0.9"/>
<line x1="440.50" y1="545.94" x2="443.10" y2="545.94" stroke="#555" stroke-width="0.9"/>
<line x1="440.50" y1="549.36" x2="443.10" y2="549.36" stroke="#555" stroke-width="0.9"/>
<line x1="440.50" y1="552.31" x2="443.10" y2="552.31" stroke="#555" stroke-width="0.9"/>
<line x1="440.50" y1="554.92" x2="443.10" y2="554.92" stroke="#555" stroke-width="0.9"/>
<g stroke="#1a1a1a" stroke-width="0.25">
<text x="400.20" y="510.03" font-size="10" text-anchor="start" fill="#1a1a1a" font-weight="normal" textLength="4.6" lengthAdjust="spacingAndGlyphs">1</text>
<text x="406.80" y="510.03" font-size="10" text-anchor="start" fill="#1a1a1a" font-weight="normal" textLength="5.2" lengthAdjust="spacingAndGlyphs">×</text>
<text x="414.40" y="510.03" font-size="10" text-anchor="start" fill="#1a1a1a" font-weight="normal" textLength="12.0" lengthAdjust="spacingAndGlyphs">10</text>
<text x="425.60" y="504.43" font-size="6.5" text-anchor="start" fill="#1a1a1a" font-weight="normal" textLength="7.8" lengthAdjust="spacingAndGlyphs">−3</text>
</g>
<line x1="438.50" y1="557.26" x2="443.10" y2="557.26" stroke="#555" stroke-width="1.0"/>
<line x1="440.50" y1="572.62" x2="443.10" y2="572.62" stroke="#555" stroke-width="0.9"/>
<line x1="440.50" y1="581.61" x2="443.10" y2="581.61" stroke="#555" stroke-width="0.9"/>
<line x1="440.50" y1="587.98" x2="443.10" y2="587.98" stroke="#555" stroke-width="0.9"/>
<line x1="440.50" y1="592.93" x2="443.10" y2="592.93" stroke="#555" stroke-width="0.9"/>
<line x1="440.50" y1="596.97" x2="443.10" y2="596.97" stroke="#555" stroke-width="0.9"/>
<line x1="440.50" y1="600.39" x2="443.10" y2="600.39" stroke="#555" stroke-width="0.9"/>
<line x1="440.50" y1="603.34" x2="443.10" y2="603.34" stroke="#555" stroke-width="0.9"/>
<line x1="440.50" y1="605.95" x2="443.10" y2="605.95" stroke="#555" stroke-width="0.9"/>
<g stroke="#1a1a1a" stroke-width="0.25">
<text x="400.20" y="561.06" font-size="10" text-anchor="start" fill="#1a1a1a" font-weight="normal" textLength="4.6" lengthAdjust="spacingAndGlyphs">1</text>
<text x="406.80" y="561.06" font-size="10" text-anchor="start" fill="#1a1a1a" font-weight="normal" textLength="5.2" lengthAdjust="spacingAndGlyphs">×</text>
<text x="414.40" y="561.06" font-size="10" text-anchor="start" fill="#1a1a1a" font-weight="normal" textLength="12.0" lengthAdjust="spacingAndGlyphs">10</text>
<text x="425.60" y="555.46" font-size="6.5" text-anchor="start" fill="#1a1a1a" font-weight="normal" textLength="7.8" lengthAdjust="spacingAndGlyphs">−2</text>
</g>
<line x1="438.50" y1="608.29" x2="443.10" y2="608.29" stroke="#555" stroke-width="1.0"/>
<g stroke="#1a1a1a" stroke-width="0.25">
<text x="400.20" y="612.09" font-size="10" text-anchor="start" fill="#1a1a1a" font-weight="normal" textLength="4.6" lengthAdjust="spacingAndGlyphs">1</text>
<text x="406.80" y="612.09" font-size="10" text-anchor="start" fill="#1a1a1a" font-weight="normal" textLength="5.2" lengthAdjust="spacingAndGlyphs">×</text>
<text x="414.40" y="612.09" font-size="10" text-anchor="start" fill="#1a1a1a" font-weight="normal" textLength="12.0" lengthAdjust="spacingAndGlyphs">10</text>
<text x="425.60" y="606.49" font-size="6.5" text-anchor="start" fill="#1a1a1a" font-weight="normal" textLength="6.6" lengthAdjust="spacingAndGlyphs">−1</text>
</g>
<line x1="438.50" y1="608.30" x2="682.70" y2="608.30" stroke="#555" stroke-width="1.1"/>
<line x1="458.60" y1="608.30" x2="458.60" y2="612.70" stroke="#555" stroke-width="1.0"/>
<text x="0.00" y="0.00" font-size="10.8" text-anchor="end" fill="#1a1a1a" font-weight="normal" transform="translate(463.10,622.80) rotate(-45)">M0</text>
<line x1="481.67" y1="608.30" x2="481.67" y2="612.70" stroke="#555" stroke-width="1.0"/>
<text x="0.00" y="0.00" font-size="10.8" text-anchor="end" fill="#1a1a1a" font-weight="normal" transform="translate(486.17,622.80) rotate(-45)">M1</text>
<line x1="504.74" y1="608.30" x2="504.74" y2="612.70" stroke="#555" stroke-width="1.0"/>
<text x="0.00" y="0.00" font-size="10.8" text-anchor="end" fill="#1a1a1a" font-weight="normal" transform="translate(509.24,622.80) rotate(-45)">M3</text>
<line x1="527.81" y1="608.30" x2="527.81" y2="612.70" stroke="#555" stroke-width="1.0"/>
<text x="0.00" y="0.00" font-size="10.8" text-anchor="end" fill="#1a1a1a" font-weight="normal" transform="translate(532.31,622.80) rotate(-45)">M6</text>
<line x1="550.88" y1="608.30" x2="550.88" y2="612.70" stroke="#555" stroke-width="1.0"/>
<text x="0.00" y="0.00" font-size="10.8" text-anchor="end" fill="#1a1a1a" font-weight="normal" transform="translate(555.38,622.80) rotate(-45)">M12</text>
<line x1="573.95" y1="608.30" x2="573.95" y2="612.70" stroke="#555" stroke-width="1.0"/>
<text x="0.00" y="0.00" font-size="10.8" text-anchor="end" fill="#1a1a1a" font-weight="normal" transform="translate(578.45,622.80) rotate(-45)">M18</text>
<line x1="597.02" y1="608.30" x2="597.02" y2="612.70" stroke="#555" stroke-width="1.0"/>
<text x="0.00" y="0.00" font-size="10.8" text-anchor="end" fill="#1a1a1a" font-weight="normal" transform="translate(601.52,622.80) rotate(-45)">M19</text>
<line x1="620.09" y1="608.30" x2="620.09" y2="612.70" stroke="#555" stroke-width="1.0"/>
<text x="0.00" y="0.00" font-size="10.8" text-anchor="end" fill="#1a1a1a" font-weight="normal" transform="translate(624.59,622.80) rotate(-45)">M24</text>
<line x1="643.16" y1="608.30" x2="643.16" y2="612.70" stroke="#555" stroke-width="1.0"/>
<text x="0.00" y="0.00" font-size="10.8" text-anchor="end" fill="#1a1a1a" font-weight="normal" transform="translate(647.66,622.80) rotate(-45)">M30</text>
<line x1="666.23" y1="608.30" x2="666.23" y2="612.70" stroke="#555" stroke-width="1.0"/>
<text x="0.00" y="0.00" font-size="10.8" text-anchor="end" fill="#1a1a1a" font-weight="normal" transform="translate(670.73,622.80) rotate(-45)">M36</text>
<text x="563.40" y="656.90" font-size="12" text-anchor="middle" fill="#1a1a1a" font-weight="normal" textLength="222.8" lengthAdjust="spacingAndGlyphs">Postvaccination time point (in months)</text>
<text transform="translate(386.00,531.15) rotate(-90)" font-size="12.5" fill="#1a1a1a" text-anchor="middle" textLength="77.5" lengthAdjust="spacingAndGlyphs">Off-rate (1 s<tspan dy="-6" font-size="7">−1</tspan><tspan dy="6">)</tspan></text>
<text x="0.00" y="0.00" font-size="18" text-anchor="start" fill="#000" font-weight="bold" stroke="#000" stroke-width="0.6" transform="translate(375.00,351.70) scale(1.12,1)">d</text>
<text x="563.30" y="354.00" font-size="12.5" text-anchor="middle" fill="#1a1a1a" font-weight="normal" textLength="134.1" lengthAdjust="spacingAndGlyphs">No Boost: Makona GP</text>
<text x="409.40" y="381.00" font-size="10" text-anchor="start" fill="#1a1a1a" font-weight="normal" textLength="29.2" lengthAdjust="spacingAndGlyphs">Mean:</text>
<text x="481.70" y="374.30" font-size="10" text-anchor="middle" fill="#1a1a1a" font-weight="normal" textLength="23.2" lengthAdjust="spacingAndGlyphs">0.07</text>
<text x="526.30" y="374.30" font-size="10" text-anchor="middle" fill="#1a1a1a" font-weight="normal" textLength="30.0" lengthAdjust="spacingAndGlyphs">0.005</text>
<text x="571.20" y="374.30" font-size="10" text-anchor="middle" fill="#1a1a1a" font-weight="normal" textLength="30.0" lengthAdjust="spacingAndGlyphs">0.004</text>
<text x="618.70" y="374.30" font-size="10" text-anchor="middle" fill="#1a1a1a" font-weight="normal" textLength="30.0" lengthAdjust="spacingAndGlyphs">0.004</text>
<text x="663.50" y="374.30" font-size="10" text-anchor="middle" fill="#1a1a1a" font-weight="normal" textLength="30.0" lengthAdjust="spacingAndGlyphs">0.004</text>
<text x="501.80" y="388.10" font-size="10" text-anchor="middle" fill="#1a1a1a" font-weight="normal" textLength="23.2" lengthAdjust="spacingAndGlyphs">0.02</text>
<text x="549.80" y="388.10" font-size="10" text-anchor="middle" fill="#1a1a1a" font-weight="normal" textLength="30.0" lengthAdjust="spacingAndGlyphs">0.004</text>
<text x="597.70" y="388.10" font-size="10" text-anchor="middle" fill="#1a1a1a" font-weight="normal" textLength="30.0" lengthAdjust="spacingAndGlyphs">0.004</text>
<text x="642.20" y="388.10" font-size="10" text-anchor="middle" fill="#1a1a1a" font-weight="normal" textLength="30.0" lengthAdjust="spacingAndGlyphs">0.004</text>
<polyline points="481.67,443.30 481.67,435.80 666.23,435.80 666.23,506.20" fill="none" stroke="#606060" stroke-width="1.0"/>
<text x="573.95" y="431.90" font-size="10" text-anchor="middle" fill="#1a1a1a" font-weight="normal" textLength="39.6" lengthAdjust="spacingAndGlyphs">&lt;0.0001</text>
<polyline points="481.67,453.70 481.67,451.30 643.16,451.30 643.16,508.60" fill="none" stroke="#606060" stroke-width="1.0"/>
<text x="562.42" y="446.60" font-size="10" text-anchor="middle" fill="#1a1a1a" font-weight="normal" textLength="39.6" lengthAdjust="spacingAndGlyphs">&lt;0.0001</text>
<polyline points="481.67,473.70 481.67,465.50 620.09,465.50 620.09,513.40" fill="none" stroke="#606060" stroke-width="1.0"/>
<text x="550.88" y="461.20" font-size="10" text-anchor="middle" fill="#1a1a1a" font-weight="normal" textLength="39.6" lengthAdjust="spacingAndGlyphs">&lt;0.0001</text>
<polyline points="481.67,487.40 481.67,480.70 597.02,480.70 597.02,515.90" fill="none" stroke="#606060" stroke-width="1.0"/>
<text x="539.35" y="475.90" font-size="10" text-anchor="middle" fill="#1a1a1a" font-weight="normal" textLength="39.6" lengthAdjust="spacingAndGlyphs">&lt;0.0001</text>
<polyline points="481.67,495.20 481.67,495.20 573.95,495.20 573.95,515.90" fill="none" stroke="#606060" stroke-width="1.0"/>
<text x="527.81" y="490.90" font-size="10" text-anchor="middle" fill="#1a1a1a" font-weight="normal" textLength="39.6" lengthAdjust="spacingAndGlyphs">&lt;0.0001</text>
<polyline points="481.67,516.50 481.67,509.60 550.88,509.60 550.88,517.50" fill="none" stroke="#606060" stroke-width="1.0"/>
<text x="516.27" y="505.80" font-size="10" text-anchor="middle" fill="#1a1a1a" font-weight="normal" textLength="39.6" lengthAdjust="spacingAndGlyphs">&lt;0.0001</text>
<polyline points="481.67,532.00 481.67,527.40 527.81,527.40 527.81,529.00" fill="none" stroke="#606060" stroke-width="1.0"/>
<text x="504.74" y="523.10" font-size="10" text-anchor="middle" fill="#1a1a1a" font-weight="normal" textLength="39.6" lengthAdjust="spacingAndGlyphs">&lt;0.0001</text>
<polyline points="481.67,570.10 481.67,554.60 504.74,554.60 504.74,554.60" fill="none" stroke="#606060" stroke-width="1.0"/>
<text x="493.21" y="550.30" font-size="10" text-anchor="middle" fill="#1a1a1a" font-weight="normal" textLength="39.6" lengthAdjust="spacingAndGlyphs">&lt;0.0001</text>
<polyline points="481.67,582.30 504.74,563.80 527.81,530.50 550.88,530.60 573.95,528.50 597.02,528.50 620.09,525.90 643.16,521.20 666.23,519.10" fill="none" stroke="#0000ff" stroke-width="0.7"/>
<polyline points="481.67,590.20 504.74,563.83 527.81,532.30 550.88,531.12 573.95,530.60 597.02,528.82 620.09,534.46 643.16,532.96 666.23,531.30" fill="none" stroke="#0000ff" stroke-width="0.7"/>
<polyline points="481.67,590.26 504.74,565.24 527.81,531.10 550.88,535.87 573.95,531.26 597.02,533.41 620.09,534.00 643.16,532.70 666.23,531.42" fill="none" stroke="#0000ff" stroke-width="0.7"/>
<polyline points="481.67,592.54 504.74,570.10 527.81,536.48 550.88,533.39 573.95,530.76 597.02,530.03 620.09,534.79 643.16,535.37 666.23,534.07" fill="none" stroke="#0000ff" stroke-width="0.7"/>
<polyline points="481.67,593.56 504.74,566.36 527.81,531.39 550.88,535.15 573.95,531.21 597.02,531.54 620.09,534.90 643.16,534.46 666.23,534.23" fill="none" stroke="#0000ff" stroke-width="0.7"/>
<polyline points="481.67,594.63 504.74,565.97 527.81,532.46 550.88,537.83 573.95,533.99 597.02,531.98 620.09,535.80 643.16,536.83 666.23,536.18" fill="none" stroke="#0000ff" stroke-width="0.7"/>
<polyline points="481.67,593.02 504.74,569.65 527.81,532.65 550.88,534.88 573.95,531.30 597.02,534.50 620.09,535.55 643.16,535.86 666.23,536.59" fill="none" stroke="#0000ff" stroke-width="0.7"/>
<polyline points="481.67,594.74 504.74,570.60 527.81,536.70 550.88,531.80 573.95,535.15 597.02,532.46 620.09,536.58 643.16,536.95 666.23,536.59" fill="none" stroke="#0000ff" stroke-width="0.7"/>
<polyline points="481.67,597.60 504.74,571.49 527.81,532.99 550.88,538.58 573.95,540.34 597.02,533.71 620.09,536.01 643.16,536.90 666.23,537.57" fill="none" stroke="#0000ff" stroke-width="0.7"/>
<polyline points="481.67,595.50 504.74,572.59 527.81,536.75 550.88,532.63 573.95,539.58 597.02,536.17 620.09,537.13 643.16,538.64 666.23,540.22" fill="none" stroke="#0000ff" stroke-width="0.7"/>
<polyline points="481.67,599.37 504.74,571.24 527.81,538.66 550.88,542.69 573.95,541.24 597.02,536.04 620.09,536.84 643.16,539.80 666.23,540.62" fill="none" stroke="#0000ff" stroke-width="0.7"/>
<polyline points="481.67,597.60 504.74,572.21 527.81,542.98 550.88,543.51 573.95,539.94 597.02,537.89 620.09,538.40 643.16,540.62 666.23,542.79" fill="none" stroke="#0000ff" stroke-width="0.7"/>
<polyline points="481.67,597.82 504.74,571.51 527.81,543.86 550.88,533.03 573.95,543.25 597.02,537.97 620.09,537.51 643.16,541.31 666.23,543.57" fill="none" stroke="#0000ff" stroke-width="0.7"/>
<polyline points="481.67,599.49 504.74,573.22 527.81,549.18 550.88,537.33 573.95,544.29 597.02,538.05 620.09,537.98 643.16,540.93 666.23,540.44" fill="none" stroke="#0000ff" stroke-width="0.7"/>
<polyline points="481.67,599.80 504.74,574.01 527.81,541.78 550.88,533.60 573.95,544.41 597.02,539.24 620.09,538.98 643.16,541.95 666.23,541.38" fill="none" stroke="#0000ff" stroke-width="0.7"/>
<polyline points="481.67,600.90 504.74,571.61 527.81,549.72 550.88,543.58 573.95,545.06 597.02,538.22 620.09,540.29 643.16,541.44 666.23,544.42" fill="none" stroke="#0000ff" stroke-width="0.7"/>
<polyline points="481.67,601.55 504.74,573.13 527.81,549.30 550.88,539.86 573.95,544.30 597.02,538.41 620.09,539.34 643.16,541.40 666.23,545.07" fill="none" stroke="#0000ff" stroke-width="0.7"/>
<polyline points="481.67,602.40 504.74,574.32 527.81,548.95 550.88,540.64 573.95,547.79 597.02,543.00 620.09,543.00 643.16,542.80 666.23,545.53" fill="none" stroke="#0000ff" stroke-width="0.7"/>
<polyline points="481.67,601.33 504.74,580.10 527.81,544.62 550.88,542.15 573.95,544.55 597.02,542.66 620.09,540.48 643.16,541.95 666.23,548.88" fill="none" stroke="#0000ff" stroke-width="0.7"/>
<polyline points="481.67,603.79 504.74,574.82 527.81,549.53 550.88,547.08 573.95,546.44 597.02,540.07 620.09,540.93 643.16,542.57 666.23,547.47" fill="none" stroke="#0000ff" stroke-width="0.7"/>
<polyline points="481.67,602.69 504.74,576.28 527.81,550.50 550.88,547.61 573.95,546.36 597.02,542.36 620.09,542.06 643.16,543.00 666.23,546.25" fill="none" stroke="#0000ff" stroke-width="0.7"/>
<polyline points="481.67,604.50 527.81,578.00 550.88,548.70 573.95,548.70 597.02,550.00 620.09,549.50 643.16,549.50 666.23,549.80" fill="none" stroke="#0000ff" stroke-width="0.7"/>
<circle cx="481.67" cy="582.30" r="3.1" fill="#0000ff"/>
<circle cx="504.74" cy="563.80" r="3.1" fill="#0000ff"/>
<circle cx="527.81" cy="530.50" r="3.1" fill="#0000ff"/>
<circle cx="550.88" cy="530.60" r="3.1" fill="#0000ff"/>
<circle cx="573.95" cy="528.50" r="3.1" fill="#0000ff"/>
<circle cx="597.02" cy="528.50" r="3.1" fill="#0000ff"/>
<circle cx="620.09" cy="525.90" r="3.1" fill="#0000ff"/>
<circle cx="643.16" cy="521.20" r="3.1" fill="#0000ff"/>
<circle cx="666.23" cy="519.10" r="3.1" fill="#0000ff"/>
<circle cx="481.67" cy="590.20" r="3.1" fill="#0000ff"/>
<circle cx="504.74" cy="563.83" r="3.1" fill="#0000ff"/>
<circle cx="527.81" cy="532.30" r="3.1" fill="#0000ff"/>
<circle cx="550.88" cy="531.12" r="3.1" fill="#0000ff"/>
<circle cx="573.95" cy="530.60" r="3.1" fill="#0000ff"/>
<circle cx="597.02" cy="528.82" r="3.1" fill="#0000ff"/>
<circle cx="620.09" cy="534.46" r="3.1" fill="#0000ff"/>
<circle cx="643.16" cy="532.96" r="3.1" fill="#0000ff"/>
<circle cx="666.23" cy="531.30" r="3.1" fill="#0000ff"/>
<circle cx="481.67" cy="590.26" r="3.1" fill="#0000ff"/>
<circle cx="504.74" cy="565.24" r="3.1" fill="#0000ff"/>
<circle cx="527.81" cy="531.10" r="3.1" fill="#0000ff"/>
<circle cx="550.88" cy="535.87" r="3.1" fill="#0000ff"/>
<circle cx="573.95" cy="531.26" r="3.1" fill="#0000ff"/>
<circle cx="597.02" cy="533.41" r="3.1" fill="#0000ff"/>
<circle cx="620.09" cy="534.00" r="3.1" fill="#0000ff"/>
<circle cx="643.16" cy="532.70" r="3.1" fill="#0000ff"/>
<circle cx="666.23" cy="531.42" r="3.1" fill="#0000ff"/>
<circle cx="481.67" cy="592.54" r="3.1" fill="#0000ff"/>
<circle cx="504.74" cy="570.10" r="3.1" fill="#0000ff"/>
<circle cx="527.81" cy="536.48" r="3.1" fill="#0000ff"/>
<circle cx="550.88" cy="533.39" r="3.1" fill="#0000ff"/>
<circle cx="573.95" cy="530.76" r="3.1" fill="#0000ff"/>
<circle cx="597.02" cy="530.03" r="3.1" fill="#0000ff"/>
<circle cx="620.09" cy="534.79" r="3.1" fill="#0000ff"/>
<circle cx="643.16" cy="535.37" r="3.1" fill="#0000ff"/>
<circle cx="666.23" cy="534.07" r="3.1" fill="#0000ff"/>
<circle cx="481.67" cy="593.56" r="3.1" fill="#0000ff"/>
<circle cx="504.74" cy="566.36" r="3.1" fill="#0000ff"/>
<circle cx="527.81" cy="531.39" r="3.1" fill="#0000ff"/>
<circle cx="550.88" cy="535.15" r="3.1" fill="#0000ff"/>
<circle cx="573.95" cy="531.21" r="3.1" fill="#0000ff"/>
<circle cx="597.02" cy="531.54" r="3.1" fill="#0000ff"/>
<circle cx="620.09" cy="534.90" r="3.1" fill="#0000ff"/>
<circle cx="643.16" cy="534.46" r="3.1" fill="#0000ff"/>
<circle cx="666.23" cy="534.23" r="3.1" fill="#0000ff"/>
<circle cx="481.67" cy="594.63" r="3.1" fill="#0000ff"/>
<circle cx="504.74" cy="565.97" r="3.1" fill="#0000ff"/>
<circle cx="527.81" cy="532.46" r="3.1" fill="#0000ff"/>
<circle cx="550.88" cy="537.83" r="3.1" fill="#0000ff"/>
<circle cx="573.95" cy="533.99" r="3.1" fill="#0000ff"/>
<circle cx="597.02" cy="531.98" r="3.1" fill="#0000ff"/>
<circle cx="620.09" cy="535.80" r="3.1" fill="#0000ff"/>
<circle cx="643.16" cy="536.83" r="3.1" fill="#0000ff"/>
<circle cx="666.23" cy="536.18" r="3.1" fill="#0000ff"/>
<circle cx="481.67" cy="593.02" r="3.1" fill="#0000ff"/>
<circle cx="504.74" cy="569.65" r="3.1" fill="#0000ff"/>
<circle cx="527.81" cy="532.65" r="3.1" fill="#0000ff"/>
<circle cx="550.88" cy="534.88" r="3.1" fill="#0000ff"/>
<circle cx="573.95" cy="531.30" r="3.1" fill="#0000ff"/>
<circle cx="597.02" cy="534.50" r="3.1" fill="#0000ff"/>
<circle cx="620.09" cy="535.55" r="3.1" fill="#0000ff"/>
<circle cx="643.16" cy="535.86" r="3.1" fill="#0000ff"/>
<circle cx="666.23" cy="536.59" r="3.1" fill="#0000ff"/>
<circle cx="481.67" cy="594.74" r="3.1" fill="#0000ff"/>
<circle cx="504.74" cy="570.60" r="3.1" fill="#0000ff"/>
<circle cx="527.81" cy="536.70" r="3.1" fill="#0000ff"/>
<circle cx="550.88" cy="531.80" r="3.1" fill="#0000ff"/>
<circle cx="573.95" cy="535.15" r="3.1" fill="#0000ff"/>
<circle cx="597.02" cy="532.46" r="3.1" fill="#0000ff"/>
<circle cx="620.09" cy="536.58" r="3.1" fill="#0000ff"/>
<circle cx="643.16" cy="536.95" r="3.1" fill="#0000ff"/>
<circle cx="666.23" cy="536.59" r="3.1" fill="#0000ff"/>
<circle cx="481.67" cy="597.60" r="3.1" fill="#0000ff"/>
<circle cx="504.74" cy="571.49" r="3.1" fill="#0000ff"/>
<circle cx="527.81" cy="532.99" r="3.1" fill="#0000ff"/>
<circle cx="550.88" cy="538.58" r="3.1" fill="#0000ff"/>
<circle cx="573.95" cy="540.34" r="3.1" fill="#0000ff"/>
<circle cx="597.02" cy="533.71" r="3.1" fill="#0000ff"/>
<circle cx="620.09" cy="536.01" r="3.1" fill="#0000ff"/>
<circle cx="643.16" cy="536.90" r="3.1" fill="#0000ff"/>
<circle cx="666.23" cy="537.57" r="3.1" fill="#0000ff"/>
<circle cx="481.67" cy="595.50" r="3.1" fill="#0000ff"/>
<circle cx="504.74" cy="572.59" r="3.1" fill="#0000ff"/>
<circle cx="527.81" cy="536.75" r="3.1" fill="#0000ff"/>
<circle cx="550.88" cy="532.63" r="3.1" fill="#0000ff"/>
<circle cx="573.95" cy="539.58" r="3.1" fill="#0000ff"/>
<circle cx="597.02" cy="536.17" r="3.1" fill="#0000ff"/>
<circle cx="620.09" cy="537.13" r="3.1" fill="#0000ff"/>
<circle cx="643.16" cy="538.64" r="3.1" fill="#0000ff"/>
<circle cx="666.23" cy="540.22" r="3.1" fill="#0000ff"/>
<circle cx="481.67" cy="599.37" r="3.1" fill="#0000ff"/>
<circle cx="504.74" cy="571.24" r="3.1" fill="#0000ff"/>
<circle cx="527.81" cy="538.66" r="3.1" fill="#0000ff"/>
<circle cx="550.88" cy="542.69" r="3.1" fill="#0000ff"/>
<circle cx="573.95" cy="541.24" r="3.1" fill="#0000ff"/>
<circle cx="597.02" cy="536.04" r="3.1" fill="#0000ff"/>
<circle cx="620.09" cy="536.84" r="3.1" fill="#0000ff"/>
<circle cx="643.16" cy="539.80" r="3.1" fill="#0000ff"/>
<circle cx="666.23" cy="540.62" r="3.1" fill="#0000ff"/>
<circle cx="481.67" cy="597.60" r="3.1" fill="#0000ff"/>
<circle cx="504.74" cy="572.21" r="3.1" fill="#0000ff"/>
<circle cx="527.81" cy="542.98" r="3.1" fill="#0000ff"/>
<circle cx="550.88" cy="543.51" r="3.1" fill="#0000ff"/>
<circle cx="573.95" cy="539.94" r="3.1" fill="#0000ff"/>
<circle cx="597.02" cy="537.89" r="3.1" fill="#0000ff"/>
<circle cx="620.09" cy="538.40" r="3.1" fill="#0000ff"/>
<circle cx="643.16" cy="540.62" r="3.1" fill="#0000ff"/>
<circle cx="666.23" cy="542.79" r="3.1" fill="#0000ff"/>
<circle cx="481.67" cy="597.82" r="3.1" fill="#0000ff"/>
<circle cx="504.74" cy="571.51" r="3.1" fill="#0000ff"/>
<circle cx="527.81" cy="543.86" r="3.1" fill="#0000ff"/>
<circle cx="550.88" cy="533.03" r="3.1" fill="#0000ff"/>
<circle cx="573.95" cy="543.25" r="3.1" fill="#0000ff"/>
<circle cx="597.02" cy="537.97" r="3.1" fill="#0000ff"/>
<circle cx="620.09" cy="537.51" r="3.1" fill="#0000ff"/>
<circle cx="643.16" cy="541.31" r="3.1" fill="#0000ff"/>
<circle cx="666.23" cy="543.57" r="3.1" fill="#0000ff"/>
<circle cx="481.67" cy="599.49" r="3.1" fill="#0000ff"/>
<circle cx="504.74" cy="573.22" r="3.1" fill="#0000ff"/>
<circle cx="527.81" cy="549.18" r="3.1" fill="#0000ff"/>
<circle cx="550.88" cy="537.33" r="3.1" fill="#0000ff"/>
<circle cx="573.95" cy="544.29" r="3.1" fill="#0000ff"/>
<circle cx="597.02" cy="538.05" r="3.1" fill="#0000ff"/>
<circle cx="620.09" cy="537.98" r="3.1" fill="#0000ff"/>
<circle cx="643.16" cy="540.93" r="3.1" fill="#0000ff"/>
<circle cx="666.23" cy="540.44" r="3.1" fill="#0000ff"/>
<circle cx="481.67" cy="599.80" r="3.1" fill="#0000ff"/>
<circle cx="504.74" cy="574.01" r="3.1" fill="#0000ff"/>
<circle cx="527.81" cy="541.78" r="3.1" fill="#0000ff"/>
<circle cx="550.88" cy="533.60" r="3.1" fill="#0000ff"/>
<circle cx="573.95" cy="544.41" r="3.1" fill="#0000ff"/>
<circle cx="597.02" cy="539.24" r="3.1" fill="#0000ff"/>
<circle cx="620.09" cy="538.98" r="3.1" fill="#0000ff"/>
<circle cx="643.16" cy="541.95" r="3.1" fill="#0000ff"/>
<circle cx="666.23" cy="541.38" r="3.1" fill="#0000ff"/>
<circle cx="481.67" cy="600.90" r="3.1" fill="#0000ff"/>
<circle cx="504.74" cy="571.61" r="3.1" fill="#0000ff"/>
<circle cx="527.81" cy="549.72" r="3.1" fill="#0000ff"/>
<circle cx="550.88" cy="543.58" r="3.1" fill="#0000ff"/>
<circle cx="573.95" cy="545.06" r="3.1" fill="#0000ff"/>
<circle cx="597.02" cy="538.22" r="3.1" fill="#0000ff"/>
<circle cx="620.09" cy="540.29" r="3.1" fill="#0000ff"/>
<circle cx="643.16" cy="541.44" r="3.1" fill="#0000ff"/>
<circle cx="666.23" cy="544.42" r="3.1" fill="#0000ff"/>
<circle cx="481.67" cy="601.55" r="3.1" fill="#0000ff"/>
<circle cx="504.74" cy="573.13" r="3.1" fill="#0000ff"/>
<circle cx="527.81" cy="549.30" r="3.1" fill="#0000ff"/>
<circle cx="550.88" cy="539.86" r="3.1" fill="#0000ff"/>
<circle cx="573.95" cy="544.30" r="3.1" fill="#0000ff"/>
<circle cx="597.02" cy="538.41" r="3.1" fill="#0000ff"/>
<circle cx="620.09" cy="539.34" r="3.1" fill="#0000ff"/>
<circle cx="643.16" cy="541.40" r="3.1" fill="#0000ff"/>
<circle cx="666.23" cy="545.07" r="3.1" fill="#0000ff"/>
<circle cx="481.67" cy="602.40" r="3.1" fill="#0000ff"/>
<circle cx="504.74" cy="574.32" r="3.1" fill="#0000ff"/>
<circle cx="527.81" cy="548.95" r="3.1" fill="#0000ff"/>
<circle cx="550.88" cy="540.64" r="3.1" fill="#0000ff"/>
<circle cx="573.95" cy="547.79" r="3.1" fill="#0000ff"/>
<circle cx="597.02" cy="543.00" r="3.1" fill="#0000ff"/>
<circle cx="620.09" cy="543.00" r="3.1" fill="#0000ff"/>
<circle cx="643.16" cy="542.80" r="3.1" fill="#0000ff"/>
<circle cx="666.23" cy="545.53" r="3.1" fill="#0000ff"/>
<circle cx="481.67" cy="601.33" r="3.1" fill="#0000ff"/>
<circle cx="504.74" cy="580.10" r="3.1" fill="#0000ff"/>
<circle cx="527.81" cy="544.62" r="3.1" fill="#0000ff"/>
<circle cx="550.88" cy="542.15" r="3.1" fill="#0000ff"/>
<circle cx="573.95" cy="544.55" r="3.1" fill="#0000ff"/>
<circle cx="597.02" cy="542.66" r="3.1" fill="#0000ff"/>
<circle cx="620.09" cy="540.48" r="3.1" fill="#0000ff"/>
<circle cx="643.16" cy="541.95" r="3.1" fill="#0000ff"/>
<circle cx="666.23" cy="548.88" r="3.1" fill="#0000ff"/>
<circle cx="481.67" cy="603.79" r="3.1" fill="#0000ff"/>
<circle cx="504.74" cy="574.82" r="3.1" fill="#0000ff"/>
<circle cx="527.81" cy="549.53" r="3.1" fill="#0000ff"/>
<circle cx="550.88" cy="547.08" r="3.1" fill="#0000ff"/>
<circle cx="573.95" cy="546.44" r="3.1" fill="#0000ff"/>
<circle cx="597.02" cy="540.07" r="3.1" fill="#0000ff"/>
<circle cx="620.09" cy="540.93" r="3.1" fill="#0000ff"/>
<circle cx="643.16" cy="542.57" r="3.1" fill="#0000ff"/>
<circle cx="666.23" cy="547.47" r="3.1" fill="#0000ff"/>
<circle cx="481.67" cy="602.69" r="3.1" fill="#0000ff"/>
<circle cx="504.74" cy="576.28" r="3.1" fill="#0000ff"/>
<circle cx="527.81" cy="550.50" r="3.1" fill="#0000ff"/>
<circle cx="550.88" cy="547.61" r="3.1" fill="#0000ff"/>
<circle cx="573.95" cy="546.36" r="3.1" fill="#0000ff"/>
<circle cx="597.02" cy="542.36" r="3.1" fill="#0000ff"/>
<circle cx="620.09" cy="542.06" r="3.1" fill="#0000ff"/>
<circle cx="643.16" cy="543.00" r="3.1" fill="#0000ff"/>
<circle cx="666.23" cy="546.25" r="3.1" fill="#0000ff"/>
<circle cx="481.67" cy="604.50" r="3.1" fill="#0000ff"/>
<circle cx="527.81" cy="578.00" r="3.1" fill="#0000ff"/>
<circle cx="550.88" cy="548.70" r="3.1" fill="#0000ff"/>
<circle cx="573.95" cy="548.70" r="3.1" fill="#0000ff"/>
<circle cx="597.02" cy="550.00" r="3.1" fill="#0000ff"/>
<circle cx="620.09" cy="549.50" r="3.1" fill="#0000ff"/>
<circle cx="643.16" cy="549.50" r="3.1" fill="#0000ff"/>
<circle cx="666.23" cy="549.80" r="3.1" fill="#0000ff"/>
<polygon points="17.2,190 20.9,190 19.5,497.5 18.5,497.5" fill="url(#fade)"/>
<polygon points="19.05,179.6 25.1,194.8 19.05,191.6 13.0,194.8" fill="#0000ff"/>
<text transform="translate(9.7,385.4) rotate(-90)" font-size="12" fill="#1a1aff" textLength="95" lengthAdjust="spacingAndGlyphs">Antibody affinity</text>
</svg></body></html>
